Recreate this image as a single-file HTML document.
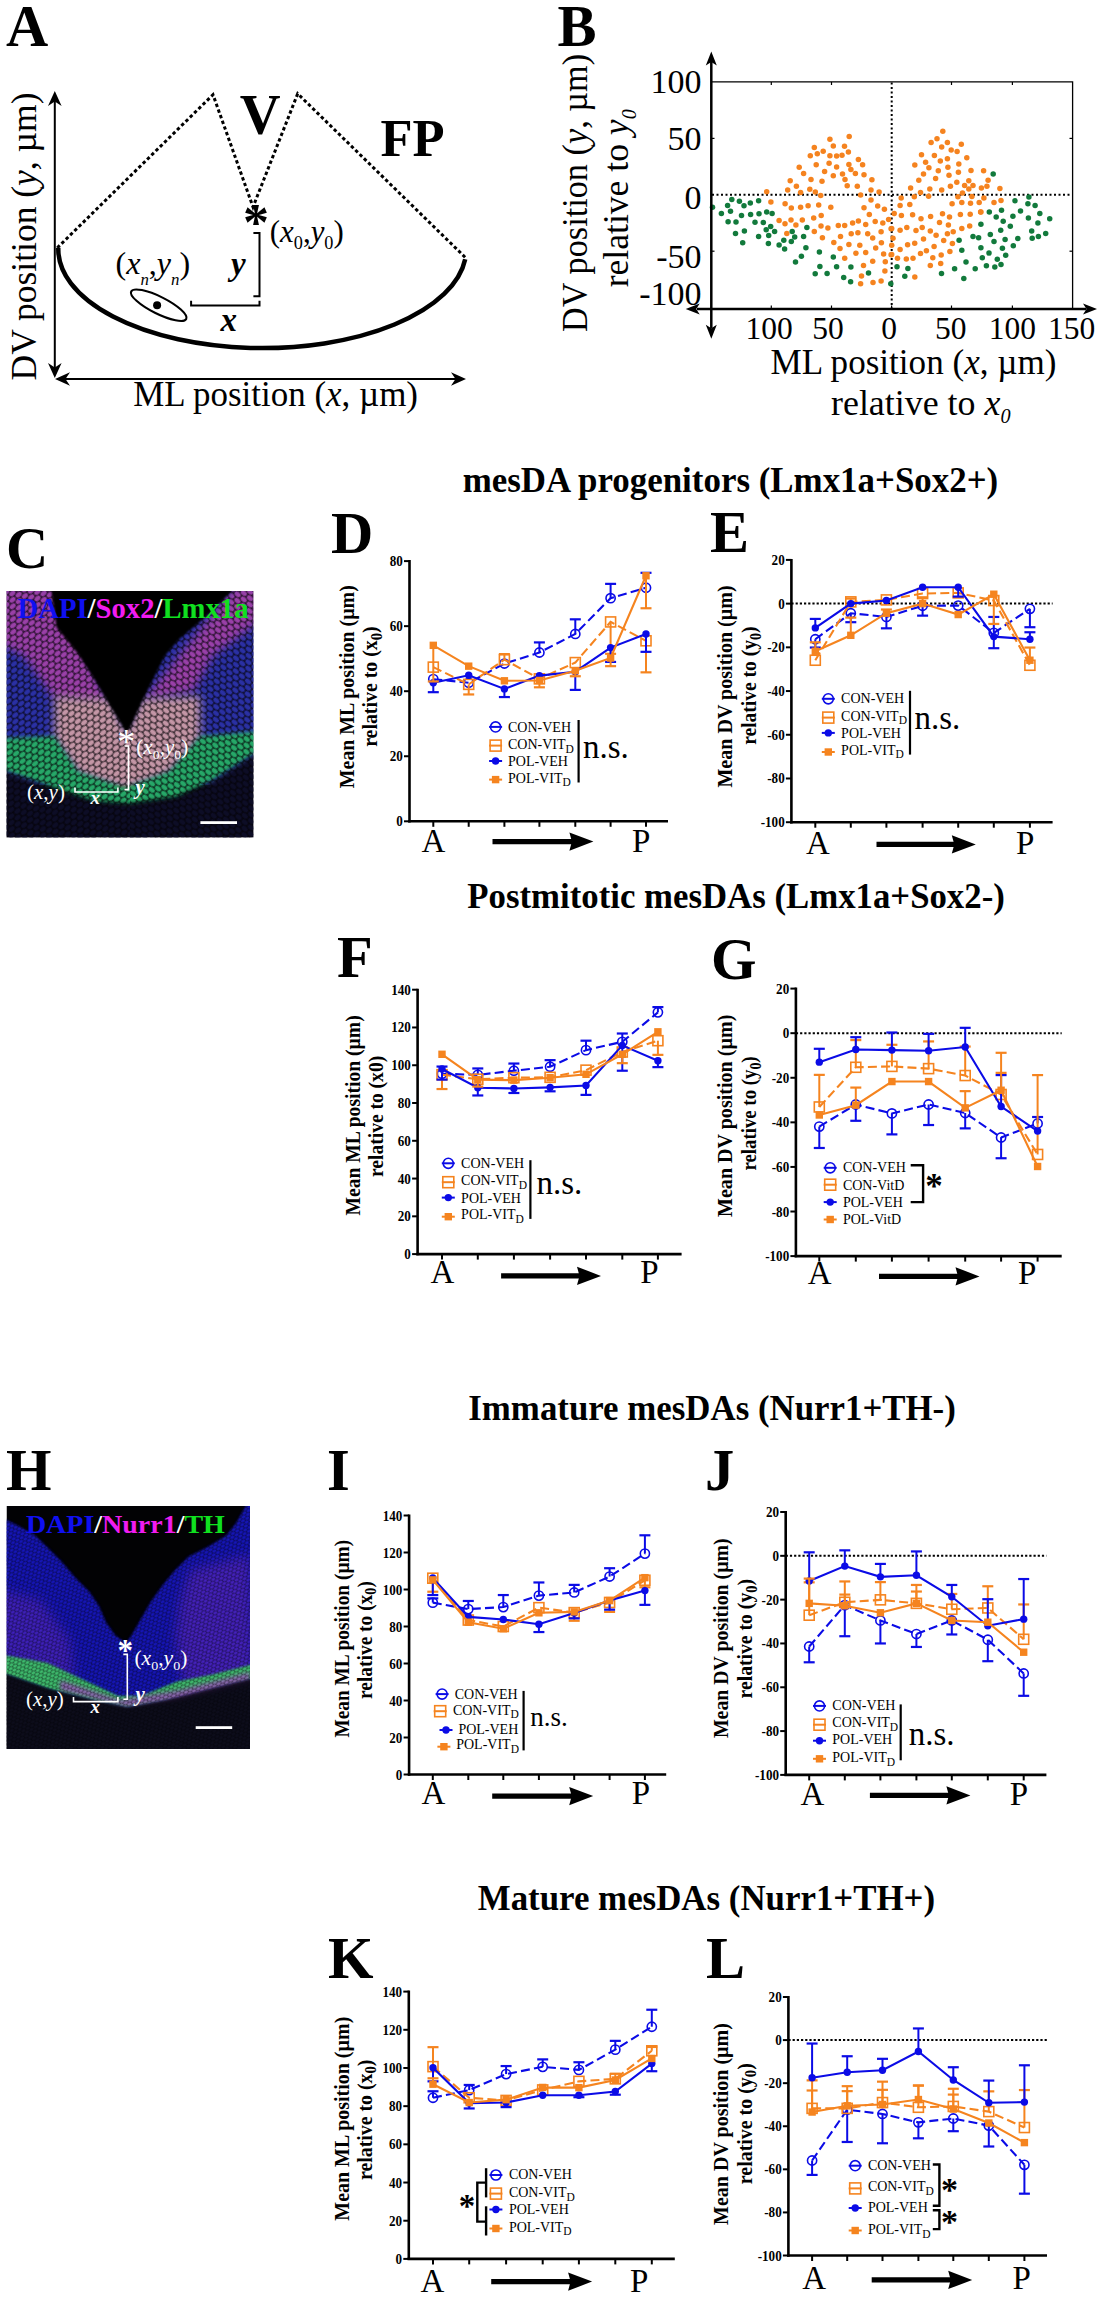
<!DOCTYPE html>
<html><head><meta charset="utf-8"><style>
html,body{margin:0;padding:0;background:#fff;}
svg{display:block;}
text{font-family:"Liberation Serif", serif;}
</style></head><body>
<svg width="1103" height="2300" viewBox="0 0 1103 2300">
<rect width="1103" height="2300" fill="#fff"/>
<text x="6.00" y="46.00" font-size="58.5" font-weight="bold" >A</text>
<text x="557.50" y="46.00" font-size="58.5" font-weight="bold" >B</text>
<text x="6.00" y="568.00" font-size="58.5" font-weight="bold" >C</text>
<text x="331.00" y="552.50" font-size="58.5" font-weight="bold" >D</text>
<text x="710.00" y="552.00" font-size="58.5" font-weight="bold" >E</text>
<text x="337.00" y="977.00" font-size="58.5" font-weight="bold" >F</text>
<text x="711.00" y="979.00" font-size="58.5" font-weight="bold" >G</text>
<text x="6.00" y="1490.00" font-size="58.5" font-weight="bold" >H</text>
<text x="327.00" y="1490.00" font-size="58.5" font-weight="bold" >I</text>
<text x="705.00" y="1490.00" font-size="58.5" font-weight="bold" >J</text>
<text x="328.00" y="1978.00" font-size="58.5" font-weight="bold" >K</text>
<text x="706.00" y="1978.00" font-size="58.5" font-weight="bold" >L</text>
<text x="462.70" y="492.00" font-size="35" font-weight="bold" textLength="535.5" lengthAdjust="spacingAndGlyphs" >mesDA progenitors (Lmx1a+Sox2+)</text>
<text x="467.30" y="907.80" font-size="35" font-weight="bold" textLength="537.5" lengthAdjust="spacingAndGlyphs" >Postmitotic mesDAs (Lmx1a+Sox2-)</text>
<text x="468.30" y="1420.30" font-size="35" font-weight="bold" textLength="487.5" lengthAdjust="spacingAndGlyphs" >Immature mesDAs (Nurr1+TH-)</text>
<text x="477.80" y="1910.30" font-size="35" font-weight="bold" textLength="457.2" lengthAdjust="spacingAndGlyphs" >Mature mesDAs (Nurr1+TH+)</text>
<defs><marker id="ah" viewBox="0 0 10 10" refX="9" refY="5" markerWidth="6" markerHeight="6" orient="auto-start-reverse"><path d="M0,0 L10,5 L0,10 L3,5 z" fill="#000"/></marker></defs>
<line x1="54.80" y1="95.50" x2="54.80" y2="373.50" stroke="#000" stroke-width="2" stroke-linecap="butt"/>
<path d="M54.8,378.0 L48.0,363.0 L54.8,367.5 L61.6,363.0 Z" fill="#000"/>
<path d="M54.8,91.0 L48.0,106.0 L54.8,101.5 L61.6,106.0 Z" fill="#000"/>
<line x1="59.50" y1="379.00" x2="461.50" y2="379.00" stroke="#000" stroke-width="2" stroke-linecap="butt"/>
<path d="M466.0,379.0 L451.0,385.8 L455.5,379.0 L451.0,372.2 Z" fill="#000"/>
<path d="M55.0,379.0 L70.0,385.8 L65.5,379.0 L70.0,372.2 Z" fill="#000"/>
<text x="35.50" y="380.50" font-size="35.5" transform="rotate(-90 35.50 380.50)" textLength="288" lengthAdjust="spacingAndGlyphs" >DV position (<tspan font-style="italic">y</tspan>, µm)</text>
<text x="133.20" y="406.40" font-size="35" textLength="284.8" lengthAdjust="spacingAndGlyphs" >ML position (<tspan font-style="italic">x</tspan>, µm)</text>
<polyline points="57.3,247.8 213,94.7 253,207 297.7,93.7 466.2,258.3" fill="none" stroke="#000" stroke-width="3" stroke-dasharray="3.4 2.6"/>
<path d="M58.3,247.8 A204,99 0 0 0 465.2,259.3" fill="none" stroke="#000" stroke-width="4.5"/>
<text x="239.80" y="134.30" font-size="56.5" font-weight="bold" >V</text>
<text x="380.50" y="155.80" font-size="52.5" font-weight="bold" >FP</text>
<text x="243.10" y="240.40" font-size="52" font-weight="bold" >*</text>
<text x="269.80" y="242.30" font-size="30.5" textLength="74" lengthAdjust="spacingAndGlyphs" >(<tspan font-style="italic">x</tspan><tspan font-size="18" dy="7">0</tspan><tspan dy="-7">,</tspan><tspan font-style="italic">y</tspan><tspan font-size="18" dy="7">0</tspan><tspan dy="-7">)</tspan></text>
<polyline points="253.4,233 259.5,233 259.5,296.2 253.4,296.2" fill="none" stroke="#000" stroke-width="2"/>
<polyline points="191.1,300.8 191.1,305.6 259.5,305.6 259.5,300.8" fill="none" stroke="#000" stroke-width="2"/>
<text x="231.00" y="274.50" font-size="33" font-weight="bold" font-style="italic" >y</text>
<text x="220.50" y="331.00" font-size="33" font-weight="bold" font-style="italic" >x</text>
<ellipse cx="158.7" cy="305.2" rx="30.8" ry="8.5" transform="rotate(26.6 158.7 305.2)" fill="none" stroke="#000" stroke-width="2.1"/>
<circle cx="157.1" cy="305.3" r="4" fill="#000"/>
<text x="115.50" y="273.50" font-size="30.5" textLength="74.7" lengthAdjust="spacingAndGlyphs" >(<tspan font-style="italic">x</tspan><tspan font-size="16" dy="11" font-style="italic">n</tspan><tspan dy="-11">,</tspan><tspan font-style="italic">y</tspan><tspan font-size="16" dy="11" font-style="italic">n</tspan><tspan dy="-11">)</tspan></text>
<line x1="409.50" y1="560.10" x2="409.50" y2="822.50" stroke="#000" stroke-width="2.6" stroke-linecap="butt"/>
<line x1="408.20" y1="821.30" x2="668.00" y2="821.30" stroke="#000" stroke-width="2.6" stroke-linecap="butt"/>
<line x1="404.00" y1="821.30" x2="409.50" y2="821.30" stroke="#000" stroke-width="2" stroke-linecap="butt"/>
<text x="402.80" y="826.30" font-size="14.8" font-weight="bold" text-anchor="end" textLength="6.55" lengthAdjust="spacingAndGlyphs" >0</text>
<line x1="404.00" y1="756.25" x2="409.50" y2="756.25" stroke="#000" stroke-width="2" stroke-linecap="butt"/>
<text x="402.80" y="761.25" font-size="14.8" font-weight="bold" text-anchor="end" textLength="13.1" lengthAdjust="spacingAndGlyphs" >20</text>
<line x1="404.00" y1="691.20" x2="409.50" y2="691.20" stroke="#000" stroke-width="2" stroke-linecap="butt"/>
<text x="402.80" y="696.20" font-size="14.8" font-weight="bold" text-anchor="end" textLength="13.1" lengthAdjust="spacingAndGlyphs" >40</text>
<line x1="404.00" y1="626.15" x2="409.50" y2="626.15" stroke="#000" stroke-width="2" stroke-linecap="butt"/>
<text x="402.80" y="631.15" font-size="14.8" font-weight="bold" text-anchor="end" textLength="13.1" lengthAdjust="spacingAndGlyphs" >60</text>
<line x1="404.00" y1="561.10" x2="409.50" y2="561.10" stroke="#000" stroke-width="2" stroke-linecap="butt"/>
<text x="402.80" y="566.10" font-size="14.8" font-weight="bold" text-anchor="end" textLength="13.1" lengthAdjust="spacingAndGlyphs" >80</text>
<line x1="433.30" y1="821.30" x2="433.30" y2="826.80" stroke="#000" stroke-width="2" stroke-linecap="butt"/>
<line x1="468.70" y1="821.30" x2="468.70" y2="826.80" stroke="#000" stroke-width="2" stroke-linecap="butt"/>
<line x1="504.40" y1="821.30" x2="504.40" y2="826.80" stroke="#000" stroke-width="2" stroke-linecap="butt"/>
<line x1="539.40" y1="821.30" x2="539.40" y2="826.80" stroke="#000" stroke-width="2" stroke-linecap="butt"/>
<line x1="575.30" y1="821.30" x2="575.30" y2="826.80" stroke="#000" stroke-width="2" stroke-linecap="butt"/>
<line x1="610.60" y1="821.30" x2="610.60" y2="826.80" stroke="#000" stroke-width="2" stroke-linecap="butt"/>
<line x1="646.00" y1="821.30" x2="646.00" y2="826.80" stroke="#000" stroke-width="2" stroke-linecap="butt"/>
<text x="421.50" y="851.50" font-size="33" >A</text>
<text x="632.00" y="851.50" font-size="33" >P</text>
<line x1="492.50" y1="841.60" x2="575.40" y2="841.60" stroke="#000" stroke-width="5.4" stroke-linecap="butt"/>
<path d="M593.4,841.6 L569.4,832.4 L571.9,841.6 L569.4,850.8 Z" fill="#000"/>
<text x="354.20" y="686.70" font-size="21.8" font-weight="bold" text-anchor="middle" transform="rotate(-90 354.20 686.70)" textLength="202.9" lengthAdjust="spacingAndGlyphs" >Mean ML position (µm)</text>
<text x="377.50" y="686.60" font-size="21.8" font-weight="bold" text-anchor="middle" transform="rotate(-90 377.50 686.60)" textLength="120.5" lengthAdjust="spacingAndGlyphs" >relative to (x<tspan font-size="16" dy="4.5">0</tspan><tspan dy="-4.5">)</tspan></text>
<polyline points="433.30,679.17 468.70,682.74 504.40,663.55 539.40,652.50 575.30,633.96 610.60,598.18 646.00,587.77" fill="none" stroke="#0b0be6" stroke-width="2.1" stroke-dasharray="9 4.2"/>
<circle cx="433.30" cy="679.17" r="4.60" fill="none" stroke="#0b0be6" stroke-width="1.6"/>
<circle cx="468.70" cy="682.74" r="4.60" fill="none" stroke="#0b0be6" stroke-width="1.6"/>
<circle cx="504.40" cy="663.55" r="4.60" fill="none" stroke="#0b0be6" stroke-width="1.6"/>
<line x1="539.40" y1="642.41" x2="539.40" y2="652.50" stroke="#0b0be6" stroke-width="2" stroke-linecap="butt"/>
<line x1="533.90" y1="642.41" x2="544.90" y2="642.41" stroke="#0b0be6" stroke-width="2.2" stroke-linecap="butt"/>
<circle cx="539.40" cy="652.50" r="4.60" fill="none" stroke="#0b0be6" stroke-width="1.6"/>
<line x1="575.30" y1="619.32" x2="575.30" y2="633.96" stroke="#0b0be6" stroke-width="2" stroke-linecap="butt"/>
<line x1="569.80" y1="619.32" x2="580.80" y2="619.32" stroke="#0b0be6" stroke-width="2.2" stroke-linecap="butt"/>
<circle cx="575.30" cy="633.96" r="4.60" fill="none" stroke="#0b0be6" stroke-width="1.6"/>
<line x1="610.60" y1="583.87" x2="610.60" y2="598.18" stroke="#0b0be6" stroke-width="2" stroke-linecap="butt"/>
<line x1="605.10" y1="583.87" x2="616.10" y2="583.87" stroke="#0b0be6" stroke-width="2.2" stroke-linecap="butt"/>
<circle cx="610.60" cy="598.18" r="4.60" fill="none" stroke="#0b0be6" stroke-width="1.6"/>
<line x1="646.00" y1="572.81" x2="646.00" y2="587.77" stroke="#0b0be6" stroke-width="2" stroke-linecap="butt"/>
<line x1="640.50" y1="572.81" x2="651.50" y2="572.81" stroke="#0b0be6" stroke-width="2.2" stroke-linecap="butt"/>
<circle cx="646.00" cy="587.77" r="4.60" fill="none" stroke="#0b0be6" stroke-width="1.6"/>
<polyline points="433.30,667.13 468.70,684.37 504.40,659.65 539.40,678.84 575.30,662.58 610.60,621.92 646.00,640.79" fill="none" stroke="#f5841f" stroke-width="2.1" stroke-dasharray="9 4.2"/>
<rect x="428.30" y="662.13" width="10.00" height="10.00" fill="none" stroke="#f5841f" stroke-width="1.6"/>
<line x1="468.70" y1="684.37" x2="468.70" y2="694.45" stroke="#f5841f" stroke-width="2" stroke-linecap="butt"/>
<line x1="463.20" y1="694.45" x2="474.20" y2="694.45" stroke="#f5841f" stroke-width="2.2" stroke-linecap="butt"/>
<rect x="463.70" y="679.37" width="10.00" height="10.00" fill="none" stroke="#f5841f" stroke-width="1.6"/>
<line x1="504.40" y1="654.12" x2="504.40" y2="659.65" stroke="#f5841f" stroke-width="2" stroke-linecap="butt"/>
<line x1="498.90" y1="654.12" x2="509.90" y2="654.12" stroke="#f5841f" stroke-width="2.2" stroke-linecap="butt"/>
<rect x="499.40" y="654.65" width="10.00" height="10.00" fill="none" stroke="#f5841f" stroke-width="1.6"/>
<rect x="534.40" y="673.84" width="10.00" height="10.00" fill="none" stroke="#f5841f" stroke-width="1.6"/>
<rect x="570.30" y="657.58" width="10.00" height="10.00" fill="none" stroke="#f5841f" stroke-width="1.6"/>
<line x1="610.60" y1="621.92" x2="610.60" y2="653.80" stroke="#f5841f" stroke-width="2" stroke-linecap="butt"/>
<line x1="605.10" y1="653.80" x2="616.10" y2="653.80" stroke="#f5841f" stroke-width="2.2" stroke-linecap="butt"/>
<rect x="605.60" y="616.92" width="10.00" height="10.00" fill="none" stroke="#f5841f" stroke-width="1.6"/>
<line x1="646.00" y1="640.79" x2="646.00" y2="672.34" stroke="#f5841f" stroke-width="2" stroke-linecap="butt"/>
<line x1="640.50" y1="672.34" x2="651.50" y2="672.34" stroke="#f5841f" stroke-width="2.2" stroke-linecap="butt"/>
<rect x="641.00" y="635.79" width="10.00" height="10.00" fill="none" stroke="#f5841f" stroke-width="1.6"/>
<polyline points="433.30,682.74 468.70,675.26 504.40,688.92 539.40,675.59 575.30,671.68 610.60,647.62 646.00,633.96" fill="none" stroke="#0b0be6" stroke-width="2.1"/>
<line x1="433.30" y1="682.74" x2="433.30" y2="692.18" stroke="#0b0be6" stroke-width="2" stroke-linecap="butt"/>
<line x1="427.80" y1="692.18" x2="438.80" y2="692.18" stroke="#0b0be6" stroke-width="2.2" stroke-linecap="butt"/>
<circle cx="433.30" cy="682.74" r="3.70" fill="#0b0be6"/>
<circle cx="468.70" cy="675.26" r="3.70" fill="#0b0be6"/>
<line x1="504.40" y1="688.92" x2="504.40" y2="697.05" stroke="#0b0be6" stroke-width="2" stroke-linecap="butt"/>
<line x1="498.90" y1="697.05" x2="509.90" y2="697.05" stroke="#0b0be6" stroke-width="2.2" stroke-linecap="butt"/>
<circle cx="504.40" cy="688.92" r="3.70" fill="#0b0be6"/>
<circle cx="539.40" cy="675.59" r="3.70" fill="#0b0be6"/>
<line x1="575.30" y1="671.68" x2="575.30" y2="689.90" stroke="#0b0be6" stroke-width="2" stroke-linecap="butt"/>
<line x1="569.80" y1="689.90" x2="580.80" y2="689.90" stroke="#0b0be6" stroke-width="2.2" stroke-linecap="butt"/>
<circle cx="575.30" cy="671.68" r="3.70" fill="#0b0be6"/>
<line x1="610.60" y1="647.62" x2="610.60" y2="661.93" stroke="#0b0be6" stroke-width="2" stroke-linecap="butt"/>
<line x1="605.10" y1="661.93" x2="616.10" y2="661.93" stroke="#0b0be6" stroke-width="2.2" stroke-linecap="butt"/>
<circle cx="610.60" cy="647.62" r="3.70" fill="#0b0be6"/>
<line x1="646.00" y1="633.96" x2="646.00" y2="651.84" stroke="#0b0be6" stroke-width="2" stroke-linecap="butt"/>
<line x1="640.50" y1="651.84" x2="651.50" y2="651.84" stroke="#0b0be6" stroke-width="2.2" stroke-linecap="butt"/>
<circle cx="646.00" cy="633.96" r="3.70" fill="#0b0be6"/>
<polyline points="433.30,645.34 468.70,666.16 504.40,680.79 539.40,680.47 575.30,670.71 610.60,658.02 646.00,575.74" fill="none" stroke="#f5841f" stroke-width="2.1"/>
<line x1="433.30" y1="645.34" x2="433.30" y2="681.44" stroke="#f5841f" stroke-width="2" stroke-linecap="butt"/>
<line x1="427.80" y1="681.44" x2="438.80" y2="681.44" stroke="#f5841f" stroke-width="2.2" stroke-linecap="butt"/>
<rect x="429.60" y="641.64" width="7.40" height="7.40" fill="#f5841f"/>
<rect x="465.00" y="662.46" width="7.40" height="7.40" fill="#f5841f"/>
<rect x="500.70" y="677.09" width="7.40" height="7.40" fill="#f5841f"/>
<line x1="539.40" y1="680.47" x2="539.40" y2="687.30" stroke="#f5841f" stroke-width="2" stroke-linecap="butt"/>
<line x1="533.90" y1="687.30" x2="544.90" y2="687.30" stroke="#f5841f" stroke-width="2.2" stroke-linecap="butt"/>
<rect x="535.70" y="676.77" width="7.40" height="7.40" fill="#f5841f"/>
<line x1="575.30" y1="670.71" x2="575.30" y2="676.24" stroke="#f5841f" stroke-width="2" stroke-linecap="butt"/>
<line x1="569.80" y1="676.24" x2="580.80" y2="676.24" stroke="#f5841f" stroke-width="2.2" stroke-linecap="butt"/>
<rect x="571.60" y="667.01" width="7.40" height="7.40" fill="#f5841f"/>
<line x1="610.60" y1="658.02" x2="610.60" y2="666.16" stroke="#f5841f" stroke-width="2" stroke-linecap="butt"/>
<line x1="605.10" y1="666.16" x2="616.10" y2="666.16" stroke="#f5841f" stroke-width="2.2" stroke-linecap="butt"/>
<rect x="606.90" y="654.32" width="7.40" height="7.40" fill="#f5841f"/>
<line x1="646.00" y1="575.74" x2="646.00" y2="608.26" stroke="#f5841f" stroke-width="2" stroke-linecap="butt"/>
<line x1="640.50" y1="608.26" x2="651.50" y2="608.26" stroke="#f5841f" stroke-width="2.2" stroke-linecap="butt"/>
<rect x="642.30" y="572.04" width="7.40" height="7.40" fill="#f5841f"/>
<line x1="489.10" y1="726.90" x2="502.10" y2="726.90" stroke="#0b0be6" stroke-width="2" stroke-linecap="butt"/>
<circle cx="495.60" cy="726.90" r="5.06" fill="none" stroke="#0b0be6" stroke-width="1.6"/>
<line x1="489.10" y1="745.60" x2="502.10" y2="745.60" stroke="#f5841f" stroke-width="2" stroke-linecap="butt"/>
<rect x="490.10" y="740.10" width="11.00" height="11.00" fill="none" stroke="#f5841f" stroke-width="1.6"/>
<line x1="489.10" y1="761.00" x2="502.10" y2="761.00" stroke="#0b0be6" stroke-width="2" stroke-linecap="butt"/>
<circle cx="495.60" cy="761.00" r="3.70" fill="#0b0be6"/>
<line x1="489.10" y1="779.60" x2="502.10" y2="779.60" stroke="#f5841f" stroke-width="2" stroke-linecap="butt"/>
<rect x="491.90" y="775.90" width="7.40" height="7.40" fill="#f5841f"/>
<text x="508.00" y="731.70" font-size="14" >CON-VEH</text>
<text x="508.00" y="749.10" font-size="14" >CON-VIT<tspan font-size="11.5" dy="3.5">D</tspan></text>
<text x="508.00" y="765.80" font-size="14" >POL-VEH</text>
<text x="508.00" y="782.90" font-size="14" >POL-VIT<tspan font-size="11.5" dy="3.5">D</tspan></text>
<line x1="578.60" y1="720.00" x2="578.60" y2="782.50" stroke="#000" stroke-width="2.2" stroke-linecap="butt"/>
<text x="583.00" y="757.80" font-size="33" >n.s.</text>
<line x1="791.40" y1="558.90" x2="791.40" y2="823.40" stroke="#000" stroke-width="2.6" stroke-linecap="butt"/>
<line x1="790.10" y1="822.20" x2="1052.60" y2="822.20" stroke="#000" stroke-width="2.6" stroke-linecap="butt"/>
<line x1="785.90" y1="559.90" x2="791.40" y2="559.90" stroke="#000" stroke-width="2" stroke-linecap="butt"/>
<text x="784.70" y="564.90" font-size="14.8" font-weight="bold" text-anchor="end" textLength="13.1" lengthAdjust="spacingAndGlyphs" >20</text>
<line x1="785.90" y1="603.62" x2="791.40" y2="603.62" stroke="#000" stroke-width="2" stroke-linecap="butt"/>
<text x="784.70" y="608.62" font-size="14.8" font-weight="bold" text-anchor="end" textLength="6.55" lengthAdjust="spacingAndGlyphs" >0</text>
<line x1="785.90" y1="647.33" x2="791.40" y2="647.33" stroke="#000" stroke-width="2" stroke-linecap="butt"/>
<text x="784.70" y="652.33" font-size="14.8" font-weight="bold" text-anchor="end" textLength="17.46" lengthAdjust="spacingAndGlyphs" >-20</text>
<line x1="785.90" y1="691.05" x2="791.40" y2="691.05" stroke="#000" stroke-width="2" stroke-linecap="butt"/>
<text x="784.70" y="696.05" font-size="14.8" font-weight="bold" text-anchor="end" textLength="17.46" lengthAdjust="spacingAndGlyphs" >-40</text>
<line x1="785.90" y1="734.77" x2="791.40" y2="734.77" stroke="#000" stroke-width="2" stroke-linecap="butt"/>
<text x="784.70" y="739.77" font-size="14.8" font-weight="bold" text-anchor="end" textLength="17.46" lengthAdjust="spacingAndGlyphs" >-60</text>
<line x1="785.90" y1="778.48" x2="791.40" y2="778.48" stroke="#000" stroke-width="2" stroke-linecap="butt"/>
<text x="784.70" y="783.48" font-size="14.8" font-weight="bold" text-anchor="end" textLength="17.46" lengthAdjust="spacingAndGlyphs" >-80</text>
<line x1="785.90" y1="822.20" x2="791.40" y2="822.20" stroke="#000" stroke-width="2" stroke-linecap="butt"/>
<text x="784.70" y="827.20" font-size="14.8" font-weight="bold" text-anchor="end" textLength="24.01" lengthAdjust="spacingAndGlyphs" >-100</text>
<line x1="815.30" y1="822.20" x2="815.30" y2="827.70" stroke="#000" stroke-width="2" stroke-linecap="butt"/>
<line x1="850.80" y1="822.20" x2="850.80" y2="827.70" stroke="#000" stroke-width="2" stroke-linecap="butt"/>
<line x1="886.40" y1="822.20" x2="886.40" y2="827.70" stroke="#000" stroke-width="2" stroke-linecap="butt"/>
<line x1="922.60" y1="822.20" x2="922.60" y2="827.70" stroke="#000" stroke-width="2" stroke-linecap="butt"/>
<line x1="958.20" y1="822.20" x2="958.20" y2="827.70" stroke="#000" stroke-width="2" stroke-linecap="butt"/>
<line x1="993.80" y1="822.20" x2="993.80" y2="827.70" stroke="#000" stroke-width="2" stroke-linecap="butt"/>
<line x1="1029.90" y1="822.20" x2="1029.90" y2="827.70" stroke="#000" stroke-width="2" stroke-linecap="butt"/>
<line x1="791.40" y1="603.62" x2="1052.60" y2="603.62" stroke="#000" stroke-width="2" stroke-dasharray="2.2 2"/>
<text x="806.00" y="854.30" font-size="33" >A</text>
<text x="1016.00" y="854.30" font-size="33" >P</text>
<line x1="876.50" y1="844.40" x2="957.80" y2="844.40" stroke="#000" stroke-width="5.4" stroke-linecap="butt"/>
<path d="M975.8,844.4 L951.8,835.2 L954.3,844.4 L951.8,853.6 Z" fill="#000"/>
<text x="732.30" y="686.40" font-size="21.8" font-weight="bold" text-anchor="middle" transform="rotate(-90 732.30 686.40)" textLength="202.3" lengthAdjust="spacingAndGlyphs" >Mean DV position (µm)</text>
<text x="756.10" y="685.60" font-size="21.8" font-weight="bold" text-anchor="middle" transform="rotate(-90 756.10 685.60)" textLength="118.4" lengthAdjust="spacingAndGlyphs" >relative to (y<tspan font-size="16" dy="4.5">0</tspan><tspan dy="-4.5">)</tspan></text>
<polyline points="815.30,639.25 850.80,613.23 886.40,616.95 922.60,605.80 958.20,605.58 993.80,632.91 1029.90,608.86" fill="none" stroke="#0b0be6" stroke-width="2.1" stroke-dasharray="9 4.2"/>
<line x1="815.30" y1="639.25" x2="815.30" y2="647.55" stroke="#0b0be6" stroke-width="2" stroke-linecap="butt"/>
<line x1="809.80" y1="647.55" x2="820.80" y2="647.55" stroke="#0b0be6" stroke-width="2.2" stroke-linecap="butt"/>
<circle cx="815.30" cy="639.25" r="4.60" fill="none" stroke="#0b0be6" stroke-width="1.6"/>
<line x1="850.80" y1="613.23" x2="850.80" y2="622.20" stroke="#0b0be6" stroke-width="2" stroke-linecap="butt"/>
<line x1="845.30" y1="622.20" x2="856.30" y2="622.20" stroke="#0b0be6" stroke-width="2.2" stroke-linecap="butt"/>
<circle cx="850.80" cy="613.23" r="4.60" fill="none" stroke="#0b0be6" stroke-width="1.6"/>
<line x1="886.40" y1="616.95" x2="886.40" y2="628.32" stroke="#0b0be6" stroke-width="2" stroke-linecap="butt"/>
<line x1="880.90" y1="628.32" x2="891.90" y2="628.32" stroke="#0b0be6" stroke-width="2.2" stroke-linecap="butt"/>
<circle cx="886.40" cy="616.95" r="4.60" fill="none" stroke="#0b0be6" stroke-width="1.6"/>
<line x1="922.60" y1="605.80" x2="922.60" y2="615.64" stroke="#0b0be6" stroke-width="2" stroke-linecap="butt"/>
<line x1="917.10" y1="615.64" x2="928.10" y2="615.64" stroke="#0b0be6" stroke-width="2.2" stroke-linecap="butt"/>
<circle cx="922.60" cy="605.80" r="4.60" fill="none" stroke="#0b0be6" stroke-width="1.6"/>
<circle cx="958.20" cy="605.58" r="4.60" fill="none" stroke="#0b0be6" stroke-width="1.6"/>
<line x1="993.80" y1="616.95" x2="993.80" y2="632.91" stroke="#0b0be6" stroke-width="2" stroke-linecap="butt"/>
<line x1="988.30" y1="616.95" x2="999.30" y2="616.95" stroke="#0b0be6" stroke-width="2.2" stroke-linecap="butt"/>
<circle cx="993.80" cy="632.91" r="4.60" fill="none" stroke="#0b0be6" stroke-width="1.6"/>
<line x1="1029.90" y1="608.86" x2="1029.90" y2="627.22" stroke="#0b0be6" stroke-width="2" stroke-linecap="butt"/>
<line x1="1024.40" y1="627.22" x2="1035.40" y2="627.22" stroke="#0b0be6" stroke-width="2.2" stroke-linecap="butt"/>
<circle cx="1029.90" cy="608.86" r="4.60" fill="none" stroke="#0b0be6" stroke-width="1.6"/>
<polyline points="815.30,660.23 850.80,601.87 886.40,599.90 922.60,593.56 958.20,592.91 993.80,600.56 1029.90,665.26" fill="none" stroke="#f5841f" stroke-width="2.1" stroke-dasharray="9 4.2"/>
<rect x="810.30" y="655.23" width="10.00" height="10.00" fill="none" stroke="#f5841f" stroke-width="1.6"/>
<line x1="850.80" y1="598.59" x2="850.80" y2="601.87" stroke="#f5841f" stroke-width="2" stroke-linecap="butt"/>
<line x1="845.30" y1="598.59" x2="856.30" y2="598.59" stroke="#f5841f" stroke-width="2.2" stroke-linecap="butt"/>
<rect x="845.80" y="596.87" width="10.00" height="10.00" fill="none" stroke="#f5841f" stroke-width="1.6"/>
<rect x="881.40" y="594.90" width="10.00" height="10.00" fill="none" stroke="#f5841f" stroke-width="1.6"/>
<rect x="917.60" y="588.56" width="10.00" height="10.00" fill="none" stroke="#f5841f" stroke-width="1.6"/>
<rect x="953.20" y="587.91" width="10.00" height="10.00" fill="none" stroke="#f5841f" stroke-width="1.6"/>
<rect x="988.80" y="595.56" width="10.00" height="10.00" fill="none" stroke="#f5841f" stroke-width="1.6"/>
<rect x="1024.90" y="660.26" width="10.00" height="10.00" fill="none" stroke="#f5841f" stroke-width="1.6"/>
<polyline points="815.30,627.88 850.80,603.62 886.40,600.56 922.60,587.22 958.20,587.22 993.80,636.62 1029.90,639.25" fill="none" stroke="#0b0be6" stroke-width="2.1"/>
<line x1="815.30" y1="618.92" x2="815.30" y2="627.88" stroke="#0b0be6" stroke-width="2" stroke-linecap="butt"/>
<line x1="809.80" y1="618.92" x2="820.80" y2="618.92" stroke="#0b0be6" stroke-width="2.2" stroke-linecap="butt"/>
<circle cx="815.30" cy="627.88" r="3.70" fill="#0b0be6"/>
<circle cx="850.80" cy="603.62" r="3.70" fill="#0b0be6"/>
<circle cx="886.40" cy="600.56" r="3.70" fill="#0b0be6"/>
<circle cx="922.60" cy="587.22" r="3.70" fill="#0b0be6"/>
<line x1="958.20" y1="587.22" x2="958.20" y2="596.62" stroke="#0b0be6" stroke-width="2" stroke-linecap="butt"/>
<line x1="952.70" y1="596.62" x2="963.70" y2="596.62" stroke="#0b0be6" stroke-width="2.2" stroke-linecap="butt"/>
<circle cx="958.20" cy="587.22" r="3.70" fill="#0b0be6"/>
<line x1="993.80" y1="636.62" x2="993.80" y2="648.21" stroke="#0b0be6" stroke-width="2" stroke-linecap="butt"/>
<line x1="988.30" y1="648.21" x2="999.30" y2="648.21" stroke="#0b0be6" stroke-width="2.2" stroke-linecap="butt"/>
<circle cx="993.80" cy="636.62" r="3.70" fill="#0b0be6"/>
<line x1="1029.90" y1="632.25" x2="1029.90" y2="639.25" stroke="#0b0be6" stroke-width="2" stroke-linecap="butt"/>
<line x1="1024.40" y1="632.25" x2="1035.40" y2="632.25" stroke="#0b0be6" stroke-width="2.2" stroke-linecap="butt"/>
<circle cx="1029.90" cy="639.25" r="3.70" fill="#0b0be6"/>
<polyline points="815.30,651.27 850.80,635.31 886.40,613.23 922.60,603.62 958.20,614.55 993.80,594.22 1029.90,660.23" fill="none" stroke="#f5841f" stroke-width="2.1"/>
<line x1="815.30" y1="642.31" x2="815.30" y2="651.27" stroke="#f5841f" stroke-width="2" stroke-linecap="butt"/>
<line x1="809.80" y1="642.31" x2="820.80" y2="642.31" stroke="#f5841f" stroke-width="2.2" stroke-linecap="butt"/>
<rect x="811.60" y="647.57" width="7.40" height="7.40" fill="#f5841f"/>
<line x1="850.80" y1="617.61" x2="850.80" y2="635.31" stroke="#f5841f" stroke-width="2" stroke-linecap="butt"/>
<line x1="845.30" y1="617.61" x2="856.30" y2="617.61" stroke="#f5841f" stroke-width="2.2" stroke-linecap="butt"/>
<rect x="847.10" y="631.61" width="7.40" height="7.40" fill="#f5841f"/>
<line x1="886.40" y1="609.52" x2="886.40" y2="613.23" stroke="#f5841f" stroke-width="2" stroke-linecap="butt"/>
<line x1="880.90" y1="609.52" x2="891.90" y2="609.52" stroke="#f5841f" stroke-width="2.2" stroke-linecap="butt"/>
<rect x="882.70" y="609.53" width="7.40" height="7.40" fill="#f5841f"/>
<line x1="922.60" y1="597.28" x2="922.60" y2="603.62" stroke="#f5841f" stroke-width="2" stroke-linecap="butt"/>
<line x1="917.10" y1="597.28" x2="928.10" y2="597.28" stroke="#f5841f" stroke-width="2.2" stroke-linecap="butt"/>
<rect x="918.90" y="599.92" width="7.40" height="7.40" fill="#f5841f"/>
<rect x="954.50" y="610.85" width="7.40" height="7.40" fill="#f5841f"/>
<line x1="993.80" y1="594.22" x2="993.80" y2="623.94" stroke="#f5841f" stroke-width="2" stroke-linecap="butt"/>
<line x1="988.30" y1="623.94" x2="999.30" y2="623.94" stroke="#f5841f" stroke-width="2.2" stroke-linecap="butt"/>
<rect x="990.10" y="590.52" width="7.40" height="7.40" fill="#f5841f"/>
<line x1="1029.90" y1="647.55" x2="1029.90" y2="660.23" stroke="#f5841f" stroke-width="2" stroke-linecap="butt"/>
<line x1="1024.40" y1="647.55" x2="1035.40" y2="647.55" stroke="#f5841f" stroke-width="2.2" stroke-linecap="butt"/>
<rect x="1026.20" y="656.53" width="7.40" height="7.40" fill="#f5841f"/>
<line x1="821.80" y1="698.80" x2="834.80" y2="698.80" stroke="#0b0be6" stroke-width="2" stroke-linecap="butt"/>
<circle cx="828.30" cy="698.80" r="5.06" fill="none" stroke="#0b0be6" stroke-width="1.6"/>
<line x1="821.80" y1="717.60" x2="834.80" y2="717.60" stroke="#f5841f" stroke-width="2" stroke-linecap="butt"/>
<rect x="822.80" y="712.10" width="11.00" height="11.00" fill="none" stroke="#f5841f" stroke-width="1.6"/>
<line x1="821.80" y1="732.90" x2="834.80" y2="732.90" stroke="#0b0be6" stroke-width="2" stroke-linecap="butt"/>
<circle cx="828.30" cy="732.90" r="3.70" fill="#0b0be6"/>
<line x1="821.80" y1="752.00" x2="834.80" y2="752.00" stroke="#f5841f" stroke-width="2" stroke-linecap="butt"/>
<rect x="824.60" y="748.30" width="7.40" height="7.40" fill="#f5841f"/>
<text x="841.10" y="703.10" font-size="14" >CON-VEH</text>
<text x="841.10" y="720.50" font-size="14" >CON-VIT<tspan font-size="11.5" dy="3.5">D</tspan></text>
<text x="841.10" y="738.00" font-size="14" >POL-VEH</text>
<text x="841.10" y="754.60" font-size="14" >POL-VIT<tspan font-size="11.5" dy="3.5">D</tspan></text>
<line x1="910.00" y1="690.80" x2="910.00" y2="754.60" stroke="#000" stroke-width="2.2" stroke-linecap="butt"/>
<text x="914.40" y="729.20" font-size="33" >n.s.</text>
<line x1="417.60" y1="988.70" x2="417.60" y2="1255.30" stroke="#000" stroke-width="2.6" stroke-linecap="butt"/>
<line x1="416.30" y1="1254.10" x2="681.60" y2="1254.10" stroke="#000" stroke-width="2.6" stroke-linecap="butt"/>
<line x1="412.10" y1="1254.10" x2="417.60" y2="1254.10" stroke="#000" stroke-width="2" stroke-linecap="butt"/>
<text x="410.90" y="1259.10" font-size="14.8" font-weight="bold" text-anchor="end" textLength="6.55" lengthAdjust="spacingAndGlyphs" >0</text>
<line x1="412.10" y1="1216.33" x2="417.60" y2="1216.33" stroke="#000" stroke-width="2" stroke-linecap="butt"/>
<text x="410.90" y="1221.33" font-size="14.8" font-weight="bold" text-anchor="end" textLength="13.1" lengthAdjust="spacingAndGlyphs" >20</text>
<line x1="412.10" y1="1178.56" x2="417.60" y2="1178.56" stroke="#000" stroke-width="2" stroke-linecap="butt"/>
<text x="410.90" y="1183.56" font-size="14.8" font-weight="bold" text-anchor="end" textLength="13.1" lengthAdjust="spacingAndGlyphs" >40</text>
<line x1="412.10" y1="1140.79" x2="417.60" y2="1140.79" stroke="#000" stroke-width="2" stroke-linecap="butt"/>
<text x="410.90" y="1145.79" font-size="14.8" font-weight="bold" text-anchor="end" textLength="13.1" lengthAdjust="spacingAndGlyphs" >60</text>
<line x1="412.10" y1="1103.01" x2="417.60" y2="1103.01" stroke="#000" stroke-width="2" stroke-linecap="butt"/>
<text x="410.90" y="1108.01" font-size="14.8" font-weight="bold" text-anchor="end" textLength="13.1" lengthAdjust="spacingAndGlyphs" >80</text>
<line x1="412.10" y1="1065.24" x2="417.60" y2="1065.24" stroke="#000" stroke-width="2" stroke-linecap="butt"/>
<text x="410.90" y="1070.24" font-size="14.8" font-weight="bold" text-anchor="end" textLength="19.65" lengthAdjust="spacingAndGlyphs" >100</text>
<line x1="412.10" y1="1027.47" x2="417.60" y2="1027.47" stroke="#000" stroke-width="2" stroke-linecap="butt"/>
<text x="410.90" y="1032.47" font-size="14.8" font-weight="bold" text-anchor="end" textLength="19.65" lengthAdjust="spacingAndGlyphs" >120</text>
<line x1="412.10" y1="989.70" x2="417.60" y2="989.70" stroke="#000" stroke-width="2" stroke-linecap="butt"/>
<text x="410.90" y="994.70" font-size="14.8" font-weight="bold" text-anchor="end" textLength="19.65" lengthAdjust="spacingAndGlyphs" >140</text>
<line x1="442.00" y1="1254.10" x2="442.00" y2="1259.60" stroke="#000" stroke-width="2" stroke-linecap="butt"/>
<line x1="477.80" y1="1254.10" x2="477.80" y2="1259.60" stroke="#000" stroke-width="2" stroke-linecap="butt"/>
<line x1="513.90" y1="1254.10" x2="513.90" y2="1259.60" stroke="#000" stroke-width="2" stroke-linecap="butt"/>
<line x1="550.10" y1="1254.10" x2="550.10" y2="1259.60" stroke="#000" stroke-width="2" stroke-linecap="butt"/>
<line x1="586.00" y1="1254.10" x2="586.00" y2="1259.60" stroke="#000" stroke-width="2" stroke-linecap="butt"/>
<line x1="622.30" y1="1254.10" x2="622.30" y2="1259.60" stroke="#000" stroke-width="2" stroke-linecap="butt"/>
<line x1="657.90" y1="1254.10" x2="657.90" y2="1259.60" stroke="#000" stroke-width="2" stroke-linecap="butt"/>
<text x="430.60" y="1282.60" font-size="33" >A</text>
<text x="640.30" y="1282.60" font-size="33" >P</text>
<line x1="501.10" y1="1275.90" x2="583.00" y2="1275.90" stroke="#000" stroke-width="5.4" stroke-linecap="butt"/>
<path d="M601.0,1275.9 L577.0,1266.7 L579.5,1275.9 L577.0,1285.1 Z" fill="#000"/>
<text x="359.80" y="1115.40" font-size="21.8" font-weight="bold" text-anchor="middle" transform="rotate(-90 359.80 1115.40)" textLength="200.3" lengthAdjust="spacingAndGlyphs" >Mean ML position (µm)</text>
<text x="382.80" y="1116.40" font-size="21.8" font-weight="bold" text-anchor="middle" transform="rotate(-90 382.80 1116.40)" textLength="121.1" lengthAdjust="spacingAndGlyphs" >relative to (x0)</text>
<polyline points="442.00,1073.74 477.80,1074.87 513.90,1070.72 550.10,1066.75 586.00,1050.13 622.30,1041.82 657.90,1012.36" fill="none" stroke="#0b0be6" stroke-width="2.1" stroke-dasharray="9 4.2"/>
<line x1="442.00" y1="1066.56" x2="442.00" y2="1073.74" stroke="#0b0be6" stroke-width="2" stroke-linecap="butt"/>
<line x1="436.50" y1="1066.56" x2="447.50" y2="1066.56" stroke="#0b0be6" stroke-width="2.2" stroke-linecap="butt"/>
<circle cx="442.00" cy="1073.74" r="4.60" fill="none" stroke="#0b0be6" stroke-width="1.6"/>
<line x1="477.80" y1="1068.45" x2="477.80" y2="1074.87" stroke="#0b0be6" stroke-width="2" stroke-linecap="butt"/>
<line x1="472.30" y1="1068.45" x2="483.30" y2="1068.45" stroke="#0b0be6" stroke-width="2.2" stroke-linecap="butt"/>
<circle cx="477.80" cy="1074.87" r="4.60" fill="none" stroke="#0b0be6" stroke-width="1.6"/>
<line x1="513.90" y1="1063.54" x2="513.90" y2="1070.72" stroke="#0b0be6" stroke-width="2" stroke-linecap="butt"/>
<line x1="508.40" y1="1063.54" x2="519.40" y2="1063.54" stroke="#0b0be6" stroke-width="2.2" stroke-linecap="butt"/>
<circle cx="513.90" cy="1070.72" r="4.60" fill="none" stroke="#0b0be6" stroke-width="1.6"/>
<line x1="550.10" y1="1060.14" x2="550.10" y2="1066.75" stroke="#0b0be6" stroke-width="2" stroke-linecap="butt"/>
<line x1="544.60" y1="1060.14" x2="555.60" y2="1060.14" stroke="#0b0be6" stroke-width="2.2" stroke-linecap="butt"/>
<circle cx="550.10" cy="1066.75" r="4.60" fill="none" stroke="#0b0be6" stroke-width="1.6"/>
<line x1="586.00" y1="1040.69" x2="586.00" y2="1050.13" stroke="#0b0be6" stroke-width="2" stroke-linecap="butt"/>
<line x1="580.50" y1="1040.69" x2="591.50" y2="1040.69" stroke="#0b0be6" stroke-width="2.2" stroke-linecap="butt"/>
<circle cx="586.00" cy="1050.13" r="4.60" fill="none" stroke="#0b0be6" stroke-width="1.6"/>
<line x1="622.30" y1="1033.51" x2="622.30" y2="1041.82" stroke="#0b0be6" stroke-width="2" stroke-linecap="butt"/>
<line x1="616.80" y1="1033.51" x2="627.80" y2="1033.51" stroke="#0b0be6" stroke-width="2.2" stroke-linecap="butt"/>
<circle cx="622.30" cy="1041.82" r="4.60" fill="none" stroke="#0b0be6" stroke-width="1.6"/>
<line x1="657.90" y1="1007.07" x2="657.90" y2="1012.36" stroke="#0b0be6" stroke-width="2" stroke-linecap="butt"/>
<line x1="652.40" y1="1007.07" x2="663.40" y2="1007.07" stroke="#0b0be6" stroke-width="2.2" stroke-linecap="butt"/>
<circle cx="657.90" cy="1012.36" r="4.60" fill="none" stroke="#0b0be6" stroke-width="1.6"/>
<polyline points="442.00,1074.69 477.80,1079.22 513.90,1077.71 550.10,1077.33 586.00,1070.15 622.30,1052.02 657.90,1040.69" fill="none" stroke="#f5841f" stroke-width="2.1" stroke-dasharray="9 4.2"/>
<line x1="442.00" y1="1074.69" x2="442.00" y2="1089.04" stroke="#f5841f" stroke-width="2" stroke-linecap="butt"/>
<line x1="436.50" y1="1089.04" x2="447.50" y2="1089.04" stroke="#f5841f" stroke-width="2.2" stroke-linecap="butt"/>
<rect x="437.00" y="1069.69" width="10.00" height="10.00" fill="none" stroke="#f5841f" stroke-width="1.6"/>
<rect x="472.80" y="1074.22" width="10.00" height="10.00" fill="none" stroke="#f5841f" stroke-width="1.6"/>
<rect x="508.90" y="1072.71" width="10.00" height="10.00" fill="none" stroke="#f5841f" stroke-width="1.6"/>
<rect x="545.10" y="1072.33" width="10.00" height="10.00" fill="none" stroke="#f5841f" stroke-width="1.6"/>
<rect x="581.00" y="1065.15" width="10.00" height="10.00" fill="none" stroke="#f5841f" stroke-width="1.6"/>
<rect x="617.30" y="1047.02" width="10.00" height="10.00" fill="none" stroke="#f5841f" stroke-width="1.6"/>
<line x1="657.90" y1="1040.69" x2="657.90" y2="1054.86" stroke="#f5841f" stroke-width="2" stroke-linecap="butt"/>
<line x1="652.40" y1="1054.86" x2="663.40" y2="1054.86" stroke="#f5841f" stroke-width="2.2" stroke-linecap="butt"/>
<rect x="652.90" y="1035.69" width="10.00" height="10.00" fill="none" stroke="#f5841f" stroke-width="1.6"/>
<polyline points="442.00,1069.02 477.80,1087.72 513.90,1088.47 550.10,1087.34 586.00,1085.45 622.30,1045.41 657.90,1060.71" fill="none" stroke="#0b0be6" stroke-width="2.1"/>
<line x1="442.00" y1="1069.02" x2="442.00" y2="1079.60" stroke="#0b0be6" stroke-width="2" stroke-linecap="butt"/>
<line x1="436.50" y1="1079.60" x2="447.50" y2="1079.60" stroke="#0b0be6" stroke-width="2.2" stroke-linecap="butt"/>
<circle cx="442.00" cy="1069.02" r="3.70" fill="#0b0be6"/>
<line x1="477.80" y1="1087.72" x2="477.80" y2="1095.46" stroke="#0b0be6" stroke-width="2" stroke-linecap="butt"/>
<line x1="472.30" y1="1095.46" x2="483.30" y2="1095.46" stroke="#0b0be6" stroke-width="2.2" stroke-linecap="butt"/>
<circle cx="477.80" cy="1087.72" r="3.70" fill="#0b0be6"/>
<line x1="513.90" y1="1088.47" x2="513.90" y2="1093.00" stroke="#0b0be6" stroke-width="2" stroke-linecap="butt"/>
<line x1="508.40" y1="1093.00" x2="519.40" y2="1093.00" stroke="#0b0be6" stroke-width="2.2" stroke-linecap="butt"/>
<circle cx="513.90" cy="1088.47" r="3.70" fill="#0b0be6"/>
<line x1="550.10" y1="1087.34" x2="550.10" y2="1091.31" stroke="#0b0be6" stroke-width="2" stroke-linecap="butt"/>
<line x1="544.60" y1="1091.31" x2="555.60" y2="1091.31" stroke="#0b0be6" stroke-width="2.2" stroke-linecap="butt"/>
<circle cx="550.10" cy="1087.34" r="3.70" fill="#0b0be6"/>
<line x1="586.00" y1="1085.45" x2="586.00" y2="1094.89" stroke="#0b0be6" stroke-width="2" stroke-linecap="butt"/>
<line x1="580.50" y1="1094.89" x2="591.50" y2="1094.89" stroke="#0b0be6" stroke-width="2.2" stroke-linecap="butt"/>
<circle cx="586.00" cy="1085.45" r="3.70" fill="#0b0be6"/>
<line x1="622.30" y1="1045.41" x2="622.30" y2="1070.72" stroke="#0b0be6" stroke-width="2" stroke-linecap="butt"/>
<line x1="616.80" y1="1070.72" x2="627.80" y2="1070.72" stroke="#0b0be6" stroke-width="2.2" stroke-linecap="butt"/>
<circle cx="622.30" cy="1045.41" r="3.70" fill="#0b0be6"/>
<line x1="657.90" y1="1060.71" x2="657.90" y2="1067.13" stroke="#0b0be6" stroke-width="2" stroke-linecap="butt"/>
<line x1="652.40" y1="1067.13" x2="663.40" y2="1067.13" stroke="#0b0be6" stroke-width="2.2" stroke-linecap="butt"/>
<circle cx="657.90" cy="1060.71" r="3.70" fill="#0b0be6"/>
<polyline points="442.00,1054.29 477.80,1079.60 513.90,1080.16 550.10,1077.71 586.00,1074.31 622.30,1054.29 657.90,1031.82" fill="none" stroke="#f5841f" stroke-width="2.1"/>
<rect x="438.30" y="1050.59" width="7.40" height="7.40" fill="#f5841f"/>
<line x1="477.80" y1="1079.60" x2="477.80" y2="1086.58" stroke="#f5841f" stroke-width="2" stroke-linecap="butt"/>
<line x1="472.30" y1="1086.58" x2="483.30" y2="1086.58" stroke="#f5841f" stroke-width="2.2" stroke-linecap="butt"/>
<rect x="474.10" y="1075.90" width="7.40" height="7.40" fill="#f5841f"/>
<rect x="510.20" y="1076.46" width="7.40" height="7.40" fill="#f5841f"/>
<rect x="546.40" y="1074.01" width="7.40" height="7.40" fill="#f5841f"/>
<rect x="582.30" y="1070.61" width="7.40" height="7.40" fill="#f5841f"/>
<line x1="622.30" y1="1054.29" x2="622.30" y2="1063.17" stroke="#f5841f" stroke-width="2" stroke-linecap="butt"/>
<line x1="616.80" y1="1063.17" x2="627.80" y2="1063.17" stroke="#f5841f" stroke-width="2.2" stroke-linecap="butt"/>
<rect x="618.60" y="1050.59" width="7.40" height="7.40" fill="#f5841f"/>
<rect x="654.20" y="1028.12" width="7.40" height="7.40" fill="#f5841f"/>
<line x1="441.80" y1="1163.30" x2="454.80" y2="1163.30" stroke="#0b0be6" stroke-width="2" stroke-linecap="butt"/>
<circle cx="448.30" cy="1163.30" r="5.06" fill="none" stroke="#0b0be6" stroke-width="1.6"/>
<line x1="441.80" y1="1182.20" x2="454.80" y2="1182.20" stroke="#f5841f" stroke-width="2" stroke-linecap="butt"/>
<rect x="442.80" y="1176.70" width="11.00" height="11.00" fill="none" stroke="#f5841f" stroke-width="1.6"/>
<line x1="441.80" y1="1197.60" x2="454.80" y2="1197.60" stroke="#0b0be6" stroke-width="2" stroke-linecap="butt"/>
<circle cx="448.30" cy="1197.60" r="3.70" fill="#0b0be6"/>
<line x1="441.80" y1="1216.70" x2="454.80" y2="1216.70" stroke="#f5841f" stroke-width="2" stroke-linecap="butt"/>
<rect x="444.60" y="1213.00" width="7.40" height="7.40" fill="#f5841f"/>
<text x="461.10" y="1167.70" font-size="14" >CON-VEH</text>
<text x="461.10" y="1185.10" font-size="14" >CON-VIT<tspan font-size="11.5" dy="3.5">D</tspan></text>
<text x="461.10" y="1202.50" font-size="14" >POL-VEH</text>
<text x="461.10" y="1219.30" font-size="14" >POL-VIT<tspan font-size="11.5" dy="3.5">D</tspan></text>
<line x1="530.40" y1="1160.20" x2="530.40" y2="1218.90" stroke="#000" stroke-width="2.2" stroke-linecap="butt"/>
<text x="536.50" y="1194.20" font-size="33" >n.s.</text>
<line x1="795.90" y1="987.60" x2="795.90" y2="1257.30" stroke="#000" stroke-width="2.6" stroke-linecap="butt"/>
<line x1="794.60" y1="1256.10" x2="1061.70" y2="1256.10" stroke="#000" stroke-width="2.6" stroke-linecap="butt"/>
<line x1="790.40" y1="988.60" x2="795.90" y2="988.60" stroke="#000" stroke-width="2" stroke-linecap="butt"/>
<text x="789.20" y="993.60" font-size="14.8" font-weight="bold" text-anchor="end" textLength="13.1" lengthAdjust="spacingAndGlyphs" >20</text>
<line x1="790.40" y1="1033.18" x2="795.90" y2="1033.18" stroke="#000" stroke-width="2" stroke-linecap="butt"/>
<text x="789.20" y="1038.18" font-size="14.8" font-weight="bold" text-anchor="end" textLength="6.55" lengthAdjust="spacingAndGlyphs" >0</text>
<line x1="790.40" y1="1077.77" x2="795.90" y2="1077.77" stroke="#000" stroke-width="2" stroke-linecap="butt"/>
<text x="789.20" y="1082.77" font-size="14.8" font-weight="bold" text-anchor="end" textLength="17.46" lengthAdjust="spacingAndGlyphs" >-20</text>
<line x1="790.40" y1="1122.35" x2="795.90" y2="1122.35" stroke="#000" stroke-width="2" stroke-linecap="butt"/>
<text x="789.20" y="1127.35" font-size="14.8" font-weight="bold" text-anchor="end" textLength="17.46" lengthAdjust="spacingAndGlyphs" >-40</text>
<line x1="790.40" y1="1166.93" x2="795.90" y2="1166.93" stroke="#000" stroke-width="2" stroke-linecap="butt"/>
<text x="789.20" y="1171.93" font-size="14.8" font-weight="bold" text-anchor="end" textLength="17.46" lengthAdjust="spacingAndGlyphs" >-60</text>
<line x1="790.40" y1="1211.52" x2="795.90" y2="1211.52" stroke="#000" stroke-width="2" stroke-linecap="butt"/>
<text x="789.20" y="1216.52" font-size="14.8" font-weight="bold" text-anchor="end" textLength="17.46" lengthAdjust="spacingAndGlyphs" >-80</text>
<line x1="790.40" y1="1256.10" x2="795.90" y2="1256.10" stroke="#000" stroke-width="2" stroke-linecap="butt"/>
<text x="789.20" y="1261.10" font-size="14.8" font-weight="bold" text-anchor="end" textLength="24.01" lengthAdjust="spacingAndGlyphs" >-100</text>
<line x1="819.30" y1="1256.10" x2="819.30" y2="1261.60" stroke="#000" stroke-width="2" stroke-linecap="butt"/>
<line x1="855.80" y1="1256.10" x2="855.80" y2="1261.60" stroke="#000" stroke-width="2" stroke-linecap="butt"/>
<line x1="891.90" y1="1256.10" x2="891.90" y2="1261.60" stroke="#000" stroke-width="2" stroke-linecap="butt"/>
<line x1="928.60" y1="1256.10" x2="928.60" y2="1261.60" stroke="#000" stroke-width="2" stroke-linecap="butt"/>
<line x1="965.20" y1="1256.10" x2="965.20" y2="1261.60" stroke="#000" stroke-width="2" stroke-linecap="butt"/>
<line x1="1001.10" y1="1256.10" x2="1001.10" y2="1261.60" stroke="#000" stroke-width="2" stroke-linecap="butt"/>
<line x1="1037.60" y1="1256.10" x2="1037.60" y2="1261.60" stroke="#000" stroke-width="2" stroke-linecap="butt"/>
<line x1="795.90" y1="1033.18" x2="1061.70" y2="1033.18" stroke="#000" stroke-width="2" stroke-dasharray="2.2 2"/>
<text x="807.80" y="1284.40" font-size="33" >A</text>
<text x="1017.90" y="1284.40" font-size="33" >P</text>
<line x1="879.00" y1="1276.40" x2="961.50" y2="1276.40" stroke="#000" stroke-width="5.4" stroke-linecap="butt"/>
<path d="M979.5,1276.4 L955.5,1267.2 L958.0,1276.4 L955.5,1285.6 Z" fill="#000"/>
<text x="732.30" y="1115.80" font-size="21.8" font-weight="bold" text-anchor="middle" transform="rotate(-90 732.30 1115.80)" textLength="202.4" lengthAdjust="spacingAndGlyphs" >Mean DV position (µm)</text>
<text x="756.10" y="1113.50" font-size="21.8" font-weight="bold" text-anchor="middle" transform="rotate(-90 756.10 1113.50)" textLength="114.2" lengthAdjust="spacingAndGlyphs" >relative to (y<tspan font-size="16" dy="4.5">0</tspan><tspan dy="-4.5">)</tspan></text>
<polyline points="819.30,1126.59 855.80,1104.52 891.90,1113.43 928.60,1104.52 965.20,1112.99 1001.10,1137.51 1037.60,1123.46" fill="none" stroke="#0b0be6" stroke-width="2.1" stroke-dasharray="9 4.2"/>
<line x1="819.30" y1="1126.59" x2="819.30" y2="1147.99" stroke="#0b0be6" stroke-width="2" stroke-linecap="butt"/>
<line x1="813.80" y1="1147.99" x2="824.80" y2="1147.99" stroke="#0b0be6" stroke-width="2.2" stroke-linecap="butt"/>
<circle cx="819.30" cy="1126.59" r="4.60" fill="none" stroke="#0b0be6" stroke-width="1.6"/>
<line x1="855.80" y1="1104.52" x2="855.80" y2="1120.79" stroke="#0b0be6" stroke-width="2" stroke-linecap="butt"/>
<line x1="850.30" y1="1120.79" x2="861.30" y2="1120.79" stroke="#0b0be6" stroke-width="2.2" stroke-linecap="butt"/>
<circle cx="855.80" cy="1104.52" r="4.60" fill="none" stroke="#0b0be6" stroke-width="1.6"/>
<line x1="891.90" y1="1113.43" x2="891.90" y2="1134.39" stroke="#0b0be6" stroke-width="2" stroke-linecap="butt"/>
<line x1="886.40" y1="1134.39" x2="897.40" y2="1134.39" stroke="#0b0be6" stroke-width="2.2" stroke-linecap="butt"/>
<circle cx="891.90" cy="1113.43" r="4.60" fill="none" stroke="#0b0be6" stroke-width="1.6"/>
<line x1="928.60" y1="1104.52" x2="928.60" y2="1125.03" stroke="#0b0be6" stroke-width="2" stroke-linecap="butt"/>
<line x1="923.10" y1="1125.03" x2="934.10" y2="1125.03" stroke="#0b0be6" stroke-width="2.2" stroke-linecap="butt"/>
<circle cx="928.60" cy="1104.52" r="4.60" fill="none" stroke="#0b0be6" stroke-width="1.6"/>
<line x1="965.20" y1="1112.99" x2="965.20" y2="1128.37" stroke="#0b0be6" stroke-width="2" stroke-linecap="butt"/>
<line x1="959.70" y1="1128.37" x2="970.70" y2="1128.37" stroke="#0b0be6" stroke-width="2.2" stroke-linecap="butt"/>
<circle cx="965.20" cy="1112.99" r="4.60" fill="none" stroke="#0b0be6" stroke-width="1.6"/>
<line x1="1001.10" y1="1137.51" x2="1001.10" y2="1158.24" stroke="#0b0be6" stroke-width="2" stroke-linecap="butt"/>
<line x1="995.60" y1="1158.24" x2="1006.60" y2="1158.24" stroke="#0b0be6" stroke-width="2.2" stroke-linecap="butt"/>
<circle cx="1001.10" cy="1137.51" r="4.60" fill="none" stroke="#0b0be6" stroke-width="1.6"/>
<line x1="1037.60" y1="1117.00" x2="1037.60" y2="1123.46" stroke="#0b0be6" stroke-width="2" stroke-linecap="butt"/>
<line x1="1032.10" y1="1117.00" x2="1043.10" y2="1117.00" stroke="#0b0be6" stroke-width="2.2" stroke-linecap="butt"/>
<circle cx="1037.60" cy="1123.46" r="4.60" fill="none" stroke="#0b0be6" stroke-width="1.6"/>
<polyline points="819.30,1106.97 855.80,1067.29 891.90,1066.40 928.60,1068.63 965.20,1075.54 1001.10,1094.49 1037.60,1154.45" fill="none" stroke="#f5841f" stroke-width="2.1" stroke-dasharray="9 4.2"/>
<line x1="819.30" y1="1074.87" x2="819.30" y2="1106.97" stroke="#f5841f" stroke-width="2" stroke-linecap="butt"/>
<line x1="813.80" y1="1074.87" x2="824.80" y2="1074.87" stroke="#f5841f" stroke-width="2.2" stroke-linecap="butt"/>
<rect x="814.30" y="1101.97" width="10.00" height="10.00" fill="none" stroke="#f5841f" stroke-width="1.6"/>
<line x1="855.80" y1="1040.09" x2="855.80" y2="1067.29" stroke="#f5841f" stroke-width="2" stroke-linecap="butt"/>
<line x1="850.30" y1="1040.09" x2="861.30" y2="1040.09" stroke="#f5841f" stroke-width="2.2" stroke-linecap="butt"/>
<rect x="850.80" y="1062.29" width="10.00" height="10.00" fill="none" stroke="#f5841f" stroke-width="1.6"/>
<line x1="891.90" y1="1044.78" x2="891.90" y2="1066.40" stroke="#f5841f" stroke-width="2" stroke-linecap="butt"/>
<line x1="886.40" y1="1044.78" x2="897.40" y2="1044.78" stroke="#f5841f" stroke-width="2.2" stroke-linecap="butt"/>
<rect x="886.90" y="1061.40" width="10.00" height="10.00" fill="none" stroke="#f5841f" stroke-width="1.6"/>
<line x1="928.60" y1="1041.43" x2="928.60" y2="1068.63" stroke="#f5841f" stroke-width="2" stroke-linecap="butt"/>
<line x1="923.10" y1="1041.43" x2="934.10" y2="1041.43" stroke="#f5841f" stroke-width="2.2" stroke-linecap="butt"/>
<rect x="923.60" y="1063.63" width="10.00" height="10.00" fill="none" stroke="#f5841f" stroke-width="1.6"/>
<line x1="965.20" y1="1046.56" x2="965.20" y2="1075.54" stroke="#f5841f" stroke-width="2" stroke-linecap="butt"/>
<line x1="959.70" y1="1046.56" x2="970.70" y2="1046.56" stroke="#f5841f" stroke-width="2.2" stroke-linecap="butt"/>
<rect x="960.20" y="1070.54" width="10.00" height="10.00" fill="none" stroke="#f5841f" stroke-width="1.6"/>
<line x1="1001.10" y1="1052.80" x2="1001.10" y2="1094.49" stroke="#f5841f" stroke-width="2" stroke-linecap="butt"/>
<line x1="995.60" y1="1052.80" x2="1006.60" y2="1052.80" stroke="#f5841f" stroke-width="2.2" stroke-linecap="butt"/>
<rect x="996.10" y="1089.49" width="10.00" height="10.00" fill="none" stroke="#f5841f" stroke-width="1.6"/>
<line x1="1037.60" y1="1075.09" x2="1037.60" y2="1154.45" stroke="#f5841f" stroke-width="2" stroke-linecap="butt"/>
<line x1="1032.10" y1="1075.09" x2="1043.10" y2="1075.09" stroke="#f5841f" stroke-width="2.2" stroke-linecap="butt"/>
<rect x="1032.60" y="1149.45" width="10.00" height="10.00" fill="none" stroke="#f5841f" stroke-width="1.6"/>
<polyline points="819.30,1062.16 855.80,1049.46 891.90,1050.12 928.60,1050.79 965.20,1047.00 1001.10,1106.52 1037.60,1131.04" fill="none" stroke="#0b0be6" stroke-width="2.1"/>
<line x1="819.30" y1="1048.79" x2="819.30" y2="1062.16" stroke="#0b0be6" stroke-width="2" stroke-linecap="butt"/>
<line x1="813.80" y1="1048.79" x2="824.80" y2="1048.79" stroke="#0b0be6" stroke-width="2.2" stroke-linecap="butt"/>
<circle cx="819.30" cy="1062.16" r="3.70" fill="#0b0be6"/>
<line x1="855.80" y1="1037.20" x2="855.80" y2="1049.46" stroke="#0b0be6" stroke-width="2" stroke-linecap="butt"/>
<line x1="850.30" y1="1037.20" x2="861.30" y2="1037.20" stroke="#0b0be6" stroke-width="2.2" stroke-linecap="butt"/>
<circle cx="855.80" cy="1049.46" r="3.70" fill="#0b0be6"/>
<line x1="891.90" y1="1032.51" x2="891.90" y2="1050.12" stroke="#0b0be6" stroke-width="2" stroke-linecap="butt"/>
<line x1="886.40" y1="1032.51" x2="897.40" y2="1032.51" stroke="#0b0be6" stroke-width="2.2" stroke-linecap="butt"/>
<circle cx="891.90" cy="1050.12" r="3.70" fill="#0b0be6"/>
<line x1="928.60" y1="1033.85" x2="928.60" y2="1050.79" stroke="#0b0be6" stroke-width="2" stroke-linecap="butt"/>
<line x1="923.10" y1="1033.85" x2="934.10" y2="1033.85" stroke="#0b0be6" stroke-width="2.2" stroke-linecap="butt"/>
<circle cx="928.60" cy="1050.79" r="3.70" fill="#0b0be6"/>
<line x1="965.20" y1="1027.83" x2="965.20" y2="1047.00" stroke="#0b0be6" stroke-width="2" stroke-linecap="butt"/>
<line x1="959.70" y1="1027.83" x2="970.70" y2="1027.83" stroke="#0b0be6" stroke-width="2.2" stroke-linecap="butt"/>
<circle cx="965.20" cy="1047.00" r="3.70" fill="#0b0be6"/>
<line x1="1001.10" y1="1075.09" x2="1001.10" y2="1106.52" stroke="#0b0be6" stroke-width="2" stroke-linecap="butt"/>
<line x1="995.60" y1="1075.09" x2="1006.60" y2="1075.09" stroke="#0b0be6" stroke-width="2.2" stroke-linecap="butt"/>
<circle cx="1001.10" cy="1106.52" r="3.70" fill="#0b0be6"/>
<circle cx="1037.60" cy="1131.04" r="3.70" fill="#0b0be6"/>
<polyline points="819.30,1114.99 855.80,1105.19 891.90,1081.56 928.60,1081.56 965.20,1107.86 1001.10,1090.25 1037.60,1166.49" fill="none" stroke="#f5841f" stroke-width="2.1"/>
<rect x="815.60" y="1111.29" width="7.40" height="7.40" fill="#f5841f"/>
<line x1="855.80" y1="1087.58" x2="855.80" y2="1105.19" stroke="#f5841f" stroke-width="2" stroke-linecap="butt"/>
<line x1="850.30" y1="1087.58" x2="861.30" y2="1087.58" stroke="#f5841f" stroke-width="2.2" stroke-linecap="butt"/>
<rect x="852.10" y="1101.49" width="7.40" height="7.40" fill="#f5841f"/>
<rect x="888.20" y="1077.86" width="7.40" height="7.40" fill="#f5841f"/>
<rect x="924.90" y="1077.86" width="7.40" height="7.40" fill="#f5841f"/>
<line x1="965.20" y1="1091.14" x2="965.20" y2="1107.86" stroke="#f5841f" stroke-width="2" stroke-linecap="butt"/>
<line x1="959.70" y1="1091.14" x2="970.70" y2="1091.14" stroke="#f5841f" stroke-width="2.2" stroke-linecap="butt"/>
<rect x="961.50" y="1104.16" width="7.40" height="7.40" fill="#f5841f"/>
<line x1="1001.10" y1="1072.86" x2="1001.10" y2="1090.25" stroke="#f5841f" stroke-width="2" stroke-linecap="butt"/>
<line x1="995.60" y1="1072.86" x2="1006.60" y2="1072.86" stroke="#f5841f" stroke-width="2.2" stroke-linecap="butt"/>
<rect x="997.40" y="1086.55" width="7.40" height="7.40" fill="#f5841f"/>
<rect x="1033.90" y="1162.79" width="7.40" height="7.40" fill="#f5841f"/>
<line x1="823.70" y1="1167.80" x2="836.70" y2="1167.80" stroke="#0b0be6" stroke-width="2" stroke-linecap="butt"/>
<circle cx="830.20" cy="1167.80" r="5.06" fill="none" stroke="#0b0be6" stroke-width="1.6"/>
<line x1="823.70" y1="1184.70" x2="836.70" y2="1184.70" stroke="#f5841f" stroke-width="2" stroke-linecap="butt"/>
<rect x="824.70" y="1179.20" width="11.00" height="11.00" fill="none" stroke="#f5841f" stroke-width="1.6"/>
<line x1="823.70" y1="1202.10" x2="836.70" y2="1202.10" stroke="#0b0be6" stroke-width="2" stroke-linecap="butt"/>
<circle cx="830.20" cy="1202.10" r="3.70" fill="#0b0be6"/>
<line x1="823.70" y1="1219.50" x2="836.70" y2="1219.50" stroke="#f5841f" stroke-width="2" stroke-linecap="butt"/>
<rect x="826.50" y="1215.80" width="7.40" height="7.40" fill="#f5841f"/>
<text x="842.90" y="1172.10" font-size="14" >CON-VEH</text>
<text x="842.90" y="1189.50" font-size="14" >CON-VitD</text>
<text x="842.90" y="1206.50" font-size="14" >POL-VEH</text>
<text x="842.90" y="1223.90" font-size="14" >POL-VitD</text>
<polyline points="910.7,1165.2 923.1,1165.2 923.1,1202.1 910.7,1202.1" fill="none" stroke="#000" stroke-width="2.4"/>
<line x1="409.10" y1="1514.50" x2="409.10" y2="1775.70" stroke="#000" stroke-width="2.6" stroke-linecap="butt"/>
<line x1="407.80" y1="1774.50" x2="666.20" y2="1774.50" stroke="#000" stroke-width="2.6" stroke-linecap="butt"/>
<line x1="403.60" y1="1774.50" x2="409.10" y2="1774.50" stroke="#000" stroke-width="2" stroke-linecap="butt"/>
<text x="402.40" y="1779.50" font-size="14.8" font-weight="bold" text-anchor="end" textLength="6.55" lengthAdjust="spacingAndGlyphs" >0</text>
<line x1="403.60" y1="1737.50" x2="409.10" y2="1737.50" stroke="#000" stroke-width="2" stroke-linecap="butt"/>
<text x="402.40" y="1742.50" font-size="14.8" font-weight="bold" text-anchor="end" textLength="13.1" lengthAdjust="spacingAndGlyphs" >20</text>
<line x1="403.60" y1="1700.50" x2="409.10" y2="1700.50" stroke="#000" stroke-width="2" stroke-linecap="butt"/>
<text x="402.40" y="1705.50" font-size="14.8" font-weight="bold" text-anchor="end" textLength="13.1" lengthAdjust="spacingAndGlyphs" >40</text>
<line x1="403.60" y1="1663.50" x2="409.10" y2="1663.50" stroke="#000" stroke-width="2" stroke-linecap="butt"/>
<text x="402.40" y="1668.50" font-size="14.8" font-weight="bold" text-anchor="end" textLength="13.1" lengthAdjust="spacingAndGlyphs" >60</text>
<line x1="403.60" y1="1626.50" x2="409.10" y2="1626.50" stroke="#000" stroke-width="2" stroke-linecap="butt"/>
<text x="402.40" y="1631.50" font-size="14.8" font-weight="bold" text-anchor="end" textLength="13.1" lengthAdjust="spacingAndGlyphs" >80</text>
<line x1="403.60" y1="1589.50" x2="409.10" y2="1589.50" stroke="#000" stroke-width="2" stroke-linecap="butt"/>
<text x="402.40" y="1594.50" font-size="14.8" font-weight="bold" text-anchor="end" textLength="19.65" lengthAdjust="spacingAndGlyphs" >100</text>
<line x1="403.60" y1="1552.50" x2="409.10" y2="1552.50" stroke="#000" stroke-width="2" stroke-linecap="butt"/>
<text x="402.40" y="1557.50" font-size="14.8" font-weight="bold" text-anchor="end" textLength="19.65" lengthAdjust="spacingAndGlyphs" >120</text>
<line x1="403.60" y1="1515.50" x2="409.10" y2="1515.50" stroke="#000" stroke-width="2" stroke-linecap="butt"/>
<text x="402.40" y="1520.50" font-size="14.8" font-weight="bold" text-anchor="end" textLength="19.65" lengthAdjust="spacingAndGlyphs" >140</text>
<line x1="432.80" y1="1774.50" x2="432.80" y2="1780.00" stroke="#000" stroke-width="2" stroke-linecap="butt"/>
<line x1="468.30" y1="1774.50" x2="468.30" y2="1780.00" stroke="#000" stroke-width="2" stroke-linecap="butt"/>
<line x1="503.30" y1="1774.50" x2="503.30" y2="1780.00" stroke="#000" stroke-width="2" stroke-linecap="butt"/>
<line x1="538.90" y1="1774.50" x2="538.90" y2="1780.00" stroke="#000" stroke-width="2" stroke-linecap="butt"/>
<line x1="574.20" y1="1774.50" x2="574.20" y2="1780.00" stroke="#000" stroke-width="2" stroke-linecap="butt"/>
<line x1="609.60" y1="1774.50" x2="609.60" y2="1780.00" stroke="#000" stroke-width="2" stroke-linecap="butt"/>
<line x1="644.90" y1="1774.50" x2="644.90" y2="1780.00" stroke="#000" stroke-width="2" stroke-linecap="butt"/>
<text x="421.60" y="1803.70" font-size="33" >A</text>
<text x="631.70" y="1803.70" font-size="33" >P</text>
<line x1="492.20" y1="1796.10" x2="575.20" y2="1796.10" stroke="#000" stroke-width="5.4" stroke-linecap="butt"/>
<path d="M593.2,1796.1 L569.2,1786.9 L571.7,1796.1 L569.2,1805.3 Z" fill="#000"/>
<text x="349.30" y="1638.70" font-size="21.8" font-weight="bold" text-anchor="middle" transform="rotate(-90 349.30 1638.70)" textLength="197.7" lengthAdjust="spacingAndGlyphs" >Mean ML position (µm)</text>
<text x="371.70" y="1640.00" font-size="21.8" font-weight="bold" text-anchor="middle" transform="rotate(-90 371.70 1640.00)" textLength="117.8" lengthAdjust="spacingAndGlyphs" >relative to (x<tspan font-size="16" dy="4.5">0</tspan><tspan dy="-4.5">)</tspan></text>
<polyline points="432.80,1602.63 468.30,1609.11 503.30,1607.08 538.90,1595.61 574.20,1592.46 609.60,1576.55 644.90,1553.61" fill="none" stroke="#0b0be6" stroke-width="2.1" stroke-dasharray="9 4.2"/>
<line x1="432.80" y1="1598.38" x2="432.80" y2="1602.63" stroke="#0b0be6" stroke-width="2" stroke-linecap="butt"/>
<line x1="427.30" y1="1598.38" x2="438.30" y2="1598.38" stroke="#0b0be6" stroke-width="2.2" stroke-linecap="butt"/>
<circle cx="432.80" cy="1602.63" r="4.60" fill="none" stroke="#0b0be6" stroke-width="1.6"/>
<line x1="468.30" y1="1600.97" x2="468.30" y2="1609.11" stroke="#0b0be6" stroke-width="2" stroke-linecap="butt"/>
<line x1="462.80" y1="1600.97" x2="473.80" y2="1600.97" stroke="#0b0be6" stroke-width="2.2" stroke-linecap="butt"/>
<circle cx="468.30" cy="1609.11" r="4.60" fill="none" stroke="#0b0be6" stroke-width="1.6"/>
<line x1="503.30" y1="1595.05" x2="503.30" y2="1607.08" stroke="#0b0be6" stroke-width="2" stroke-linecap="butt"/>
<line x1="497.80" y1="1595.05" x2="508.80" y2="1595.05" stroke="#0b0be6" stroke-width="2.2" stroke-linecap="butt"/>
<circle cx="503.30" cy="1607.08" r="4.60" fill="none" stroke="#0b0be6" stroke-width="1.6"/>
<line x1="538.90" y1="1582.47" x2="538.90" y2="1595.61" stroke="#0b0be6" stroke-width="2" stroke-linecap="butt"/>
<line x1="533.40" y1="1582.47" x2="544.40" y2="1582.47" stroke="#0b0be6" stroke-width="2.2" stroke-linecap="butt"/>
<circle cx="538.90" cy="1595.61" r="4.60" fill="none" stroke="#0b0be6" stroke-width="1.6"/>
<line x1="574.20" y1="1584.88" x2="574.20" y2="1592.46" stroke="#0b0be6" stroke-width="2" stroke-linecap="butt"/>
<line x1="568.70" y1="1584.88" x2="579.70" y2="1584.88" stroke="#0b0be6" stroke-width="2.2" stroke-linecap="butt"/>
<circle cx="574.20" cy="1592.46" r="4.60" fill="none" stroke="#0b0be6" stroke-width="1.6"/>
<line x1="609.60" y1="1568.22" x2="609.60" y2="1576.55" stroke="#0b0be6" stroke-width="2" stroke-linecap="butt"/>
<line x1="604.10" y1="1568.22" x2="615.10" y2="1568.22" stroke="#0b0be6" stroke-width="2.2" stroke-linecap="butt"/>
<circle cx="609.60" cy="1576.55" r="4.60" fill="none" stroke="#0b0be6" stroke-width="1.6"/>
<line x1="644.90" y1="1535.30" x2="644.90" y2="1553.61" stroke="#0b0be6" stroke-width="2" stroke-linecap="butt"/>
<line x1="639.40" y1="1535.30" x2="650.40" y2="1535.30" stroke="#0b0be6" stroke-width="2.2" stroke-linecap="butt"/>
<circle cx="644.90" cy="1553.61" r="4.60" fill="none" stroke="#0b0be6" stroke-width="1.6"/>
<polyline points="432.80,1578.21 468.30,1620.03 503.30,1626.50 538.90,1607.63 574.20,1612.62 609.60,1602.45 644.90,1580.25" fill="none" stroke="#f5841f" stroke-width="2.1" stroke-dasharray="9 4.2"/>
<line x1="432.80" y1="1578.21" x2="432.80" y2="1591.72" stroke="#f5841f" stroke-width="2" stroke-linecap="butt"/>
<line x1="427.30" y1="1591.72" x2="438.30" y2="1591.72" stroke="#f5841f" stroke-width="2.2" stroke-linecap="butt"/>
<rect x="427.80" y="1573.21" width="10.00" height="10.00" fill="none" stroke="#f5841f" stroke-width="1.6"/>
<rect x="463.30" y="1615.03" width="10.00" height="10.00" fill="none" stroke="#f5841f" stroke-width="1.6"/>
<rect x="498.30" y="1621.50" width="10.00" height="10.00" fill="none" stroke="#f5841f" stroke-width="1.6"/>
<rect x="533.90" y="1602.63" width="10.00" height="10.00" fill="none" stroke="#f5841f" stroke-width="1.6"/>
<line x1="574.20" y1="1612.62" x2="574.20" y2="1620.77" stroke="#f5841f" stroke-width="2" stroke-linecap="butt"/>
<line x1="568.70" y1="1620.77" x2="579.70" y2="1620.77" stroke="#f5841f" stroke-width="2.2" stroke-linecap="butt"/>
<rect x="569.20" y="1607.62" width="10.00" height="10.00" fill="none" stroke="#f5841f" stroke-width="1.6"/>
<line x1="609.60" y1="1602.45" x2="609.60" y2="1611.88" stroke="#f5841f" stroke-width="2" stroke-linecap="butt"/>
<line x1="604.10" y1="1611.88" x2="615.10" y2="1611.88" stroke="#f5841f" stroke-width="2.2" stroke-linecap="butt"/>
<rect x="604.60" y="1597.45" width="10.00" height="10.00" fill="none" stroke="#f5841f" stroke-width="1.6"/>
<line x1="644.90" y1="1580.25" x2="644.90" y2="1587.28" stroke="#f5841f" stroke-width="2" stroke-linecap="butt"/>
<line x1="639.40" y1="1587.28" x2="650.40" y2="1587.28" stroke="#f5841f" stroke-width="2.2" stroke-linecap="butt"/>
<rect x="639.90" y="1575.25" width="10.00" height="10.00" fill="none" stroke="#f5841f" stroke-width="1.6"/>
<polyline points="432.80,1577.85 468.30,1616.88 503.30,1619.47 538.90,1624.28 574.20,1612.99 609.60,1600.60 644.90,1590.61" fill="none" stroke="#0b0be6" stroke-width="2.1"/>
<line x1="432.80" y1="1577.85" x2="432.80" y2="1595.05" stroke="#0b0be6" stroke-width="2" stroke-linecap="butt"/>
<line x1="427.30" y1="1595.05" x2="438.30" y2="1595.05" stroke="#0b0be6" stroke-width="2.2" stroke-linecap="butt"/>
<circle cx="432.80" cy="1577.85" r="3.70" fill="#0b0be6"/>
<circle cx="468.30" cy="1616.88" r="3.70" fill="#0b0be6"/>
<circle cx="503.30" cy="1619.47" r="3.70" fill="#0b0be6"/>
<line x1="538.90" y1="1624.28" x2="538.90" y2="1632.05" stroke="#0b0be6" stroke-width="2" stroke-linecap="butt"/>
<line x1="533.40" y1="1632.05" x2="544.40" y2="1632.05" stroke="#0b0be6" stroke-width="2.2" stroke-linecap="butt"/>
<circle cx="538.90" cy="1624.28" r="3.70" fill="#0b0be6"/>
<line x1="574.20" y1="1612.99" x2="574.20" y2="1618.36" stroke="#0b0be6" stroke-width="2" stroke-linecap="butt"/>
<line x1="568.70" y1="1618.36" x2="579.70" y2="1618.36" stroke="#0b0be6" stroke-width="2.2" stroke-linecap="butt"/>
<circle cx="574.20" cy="1612.99" r="3.70" fill="#0b0be6"/>
<line x1="609.60" y1="1600.60" x2="609.60" y2="1609.66" stroke="#0b0be6" stroke-width="2" stroke-linecap="butt"/>
<line x1="604.10" y1="1609.66" x2="615.10" y2="1609.66" stroke="#0b0be6" stroke-width="2.2" stroke-linecap="butt"/>
<circle cx="609.60" cy="1600.60" r="3.70" fill="#0b0be6"/>
<line x1="644.90" y1="1590.61" x2="644.90" y2="1604.86" stroke="#0b0be6" stroke-width="2" stroke-linecap="butt"/>
<line x1="639.40" y1="1604.86" x2="650.40" y2="1604.86" stroke="#0b0be6" stroke-width="2.2" stroke-linecap="butt"/>
<circle cx="644.90" cy="1590.61" r="3.70" fill="#0b0be6"/>
<polyline points="432.80,1579.88 468.30,1622.24 503.30,1628.72 538.90,1612.81 574.20,1611.88 609.60,1600.60 644.90,1577.66" fill="none" stroke="#f5841f" stroke-width="2.1"/>
<rect x="429.10" y="1576.18" width="7.40" height="7.40" fill="#f5841f"/>
<rect x="464.60" y="1618.54" width="7.40" height="7.40" fill="#f5841f"/>
<rect x="499.60" y="1625.02" width="7.40" height="7.40" fill="#f5841f"/>
<rect x="535.20" y="1609.11" width="7.40" height="7.40" fill="#f5841f"/>
<rect x="570.50" y="1608.18" width="7.40" height="7.40" fill="#f5841f"/>
<rect x="605.90" y="1596.90" width="7.40" height="7.40" fill="#f5841f"/>
<rect x="641.20" y="1573.96" width="7.40" height="7.40" fill="#f5841f"/>
<line x1="435.60" y1="1694.10" x2="448.60" y2="1694.10" stroke="#0b0be6" stroke-width="2" stroke-linecap="butt"/>
<circle cx="442.10" cy="1694.10" r="5.06" fill="none" stroke="#0b0be6" stroke-width="1.6"/>
<line x1="433.70" y1="1711.20" x2="446.70" y2="1711.20" stroke="#f5841f" stroke-width="2" stroke-linecap="butt"/>
<rect x="434.70" y="1705.70" width="11.00" height="11.00" fill="none" stroke="#f5841f" stroke-width="1.6"/>
<line x1="439.50" y1="1730.00" x2="452.50" y2="1730.00" stroke="#0b0be6" stroke-width="2" stroke-linecap="butt"/>
<circle cx="446.00" cy="1730.00" r="3.70" fill="#0b0be6"/>
<line x1="437.40" y1="1746.70" x2="450.40" y2="1746.70" stroke="#f5841f" stroke-width="2" stroke-linecap="butt"/>
<rect x="440.20" y="1743.00" width="7.40" height="7.40" fill="#f5841f"/>
<text x="454.70" y="1698.90" font-size="14" >CON-VEH</text>
<text x="452.90" y="1714.50" font-size="14" >CON-VIT<tspan font-size="11.5" dy="3.5">D</tspan></text>
<text x="458.40" y="1734.40" font-size="14" >POL-VEH</text>
<text x="456.20" y="1749.30" font-size="14" >POL-VIT<tspan font-size="11.5" dy="3.5">D</tspan></text>
<line x1="523.60" y1="1690.90" x2="523.60" y2="1750.40" stroke="#000" stroke-width="2.2" stroke-linecap="butt"/>
<text x="530.20" y="1726.40" font-size="27" >n.s.</text>
<line x1="785.70" y1="1511.00" x2="785.70" y2="1776.10" stroke="#000" stroke-width="2.6" stroke-linecap="butt"/>
<line x1="784.40" y1="1774.90" x2="1046.40" y2="1774.90" stroke="#000" stroke-width="2.6" stroke-linecap="butt"/>
<line x1="780.20" y1="1512.00" x2="785.70" y2="1512.00" stroke="#000" stroke-width="2" stroke-linecap="butt"/>
<text x="779.00" y="1517.00" font-size="14.8" font-weight="bold" text-anchor="end" textLength="13.1" lengthAdjust="spacingAndGlyphs" >20</text>
<line x1="780.20" y1="1555.82" x2="785.70" y2="1555.82" stroke="#000" stroke-width="2" stroke-linecap="butt"/>
<text x="779.00" y="1560.82" font-size="14.8" font-weight="bold" text-anchor="end" textLength="6.55" lengthAdjust="spacingAndGlyphs" >0</text>
<line x1="780.20" y1="1599.63" x2="785.70" y2="1599.63" stroke="#000" stroke-width="2" stroke-linecap="butt"/>
<text x="779.00" y="1604.63" font-size="14.8" font-weight="bold" text-anchor="end" textLength="17.46" lengthAdjust="spacingAndGlyphs" >-20</text>
<line x1="780.20" y1="1643.45" x2="785.70" y2="1643.45" stroke="#000" stroke-width="2" stroke-linecap="butt"/>
<text x="779.00" y="1648.45" font-size="14.8" font-weight="bold" text-anchor="end" textLength="17.46" lengthAdjust="spacingAndGlyphs" >-40</text>
<line x1="780.20" y1="1687.27" x2="785.70" y2="1687.27" stroke="#000" stroke-width="2" stroke-linecap="butt"/>
<text x="779.00" y="1692.27" font-size="14.8" font-weight="bold" text-anchor="end" textLength="17.46" lengthAdjust="spacingAndGlyphs" >-60</text>
<line x1="780.20" y1="1731.08" x2="785.70" y2="1731.08" stroke="#000" stroke-width="2" stroke-linecap="butt"/>
<text x="779.00" y="1736.08" font-size="14.8" font-weight="bold" text-anchor="end" textLength="17.46" lengthAdjust="spacingAndGlyphs" >-80</text>
<line x1="780.20" y1="1774.90" x2="785.70" y2="1774.90" stroke="#000" stroke-width="2" stroke-linecap="butt"/>
<text x="779.00" y="1779.90" font-size="14.8" font-weight="bold" text-anchor="end" textLength="24.01" lengthAdjust="spacingAndGlyphs" >-100</text>
<line x1="809.20" y1="1774.90" x2="809.20" y2="1780.40" stroke="#000" stroke-width="2" stroke-linecap="butt"/>
<line x1="844.80" y1="1774.90" x2="844.80" y2="1780.40" stroke="#000" stroke-width="2" stroke-linecap="butt"/>
<line x1="880.40" y1="1774.90" x2="880.40" y2="1780.40" stroke="#000" stroke-width="2" stroke-linecap="butt"/>
<line x1="916.40" y1="1774.90" x2="916.40" y2="1780.40" stroke="#000" stroke-width="2" stroke-linecap="butt"/>
<line x1="951.80" y1="1774.90" x2="951.80" y2="1780.40" stroke="#000" stroke-width="2" stroke-linecap="butt"/>
<line x1="987.80" y1="1774.90" x2="987.80" y2="1780.40" stroke="#000" stroke-width="2" stroke-linecap="butt"/>
<line x1="1023.70" y1="1774.90" x2="1023.70" y2="1780.40" stroke="#000" stroke-width="2" stroke-linecap="butt"/>
<line x1="785.70" y1="1555.82" x2="1046.40" y2="1555.82" stroke="#000" stroke-width="2" stroke-dasharray="2.2 2"/>
<text x="800.50" y="1804.50" font-size="33" >A</text>
<text x="1009.80" y="1804.50" font-size="33" >P</text>
<line x1="869.90" y1="1795.40" x2="952.40" y2="1795.40" stroke="#000" stroke-width="5.4" stroke-linecap="butt"/>
<path d="M970.4,1795.4 L946.4,1786.2 L948.9,1795.4 L946.4,1804.6 Z" fill="#000"/>
<text x="728.40" y="1638.20" font-size="21.8" font-weight="bold" text-anchor="middle" transform="rotate(-90 728.40 1638.20)" textLength="199.8" lengthAdjust="spacingAndGlyphs" >Mean DV position (µm)</text>
<text x="752.20" y="1638.70" font-size="21.8" font-weight="bold" text-anchor="middle" transform="rotate(-90 752.20 1638.70)" textLength="119.4" lengthAdjust="spacingAndGlyphs" >relative to (y<tspan font-size="16" dy="4.5">0</tspan><tspan dy="-4.5">)</tspan></text>
<polyline points="809.20,1646.52 844.80,1605.11 880.40,1620.45 916.40,1634.03 951.80,1620.45 987.80,1639.73 1023.70,1673.46" fill="none" stroke="#0b0be6" stroke-width="2.1" stroke-dasharray="9 4.2"/>
<line x1="809.20" y1="1646.52" x2="809.20" y2="1662.29" stroke="#0b0be6" stroke-width="2" stroke-linecap="butt"/>
<line x1="803.70" y1="1662.29" x2="814.70" y2="1662.29" stroke="#0b0be6" stroke-width="2.2" stroke-linecap="butt"/>
<circle cx="809.20" cy="1646.52" r="4.60" fill="none" stroke="#0b0be6" stroke-width="1.6"/>
<line x1="844.80" y1="1605.11" x2="844.80" y2="1636.22" stroke="#0b0be6" stroke-width="2" stroke-linecap="butt"/>
<line x1="839.30" y1="1636.22" x2="850.30" y2="1636.22" stroke="#0b0be6" stroke-width="2.2" stroke-linecap="butt"/>
<circle cx="844.80" cy="1605.11" r="4.60" fill="none" stroke="#0b0be6" stroke-width="1.6"/>
<line x1="880.40" y1="1620.45" x2="880.40" y2="1643.45" stroke="#0b0be6" stroke-width="2" stroke-linecap="butt"/>
<line x1="874.90" y1="1643.45" x2="885.90" y2="1643.45" stroke="#0b0be6" stroke-width="2.2" stroke-linecap="butt"/>
<circle cx="880.40" cy="1620.45" r="4.60" fill="none" stroke="#0b0be6" stroke-width="1.6"/>
<line x1="916.40" y1="1634.03" x2="916.40" y2="1646.96" stroke="#0b0be6" stroke-width="2" stroke-linecap="butt"/>
<line x1="910.90" y1="1646.96" x2="921.90" y2="1646.96" stroke="#0b0be6" stroke-width="2.2" stroke-linecap="butt"/>
<circle cx="916.40" cy="1634.03" r="4.60" fill="none" stroke="#0b0be6" stroke-width="1.6"/>
<line x1="951.80" y1="1620.45" x2="951.80" y2="1634.47" stroke="#0b0be6" stroke-width="2" stroke-linecap="butt"/>
<line x1="946.30" y1="1634.47" x2="957.30" y2="1634.47" stroke="#0b0be6" stroke-width="2.2" stroke-linecap="butt"/>
<circle cx="951.80" cy="1620.45" r="4.60" fill="none" stroke="#0b0be6" stroke-width="1.6"/>
<line x1="987.80" y1="1639.73" x2="987.80" y2="1661.20" stroke="#0b0be6" stroke-width="2" stroke-linecap="butt"/>
<line x1="982.30" y1="1661.20" x2="993.30" y2="1661.20" stroke="#0b0be6" stroke-width="2.2" stroke-linecap="butt"/>
<circle cx="987.80" cy="1639.73" r="4.60" fill="none" stroke="#0b0be6" stroke-width="1.6"/>
<line x1="1023.70" y1="1673.46" x2="1023.70" y2="1695.81" stroke="#0b0be6" stroke-width="2" stroke-linecap="butt"/>
<line x1="1018.20" y1="1695.81" x2="1029.20" y2="1695.81" stroke="#0b0be6" stroke-width="2.2" stroke-linecap="butt"/>
<circle cx="1023.70" cy="1673.46" r="4.60" fill="none" stroke="#0b0be6" stroke-width="1.6"/>
<polyline points="809.20,1615.19 844.80,1602.26 880.40,1599.85 916.40,1603.36 951.80,1609.27 987.80,1607.96 1023.70,1639.29" fill="none" stroke="#f5841f" stroke-width="2.1" stroke-dasharray="9 4.2"/>
<line x1="809.20" y1="1582.33" x2="809.20" y2="1615.19" stroke="#f5841f" stroke-width="2" stroke-linecap="butt"/>
<line x1="803.70" y1="1582.33" x2="814.70" y2="1582.33" stroke="#f5841f" stroke-width="2.2" stroke-linecap="butt"/>
<rect x="804.20" y="1610.19" width="10.00" height="10.00" fill="none" stroke="#f5841f" stroke-width="1.6"/>
<line x1="844.80" y1="1581.45" x2="844.80" y2="1602.26" stroke="#f5841f" stroke-width="2" stroke-linecap="butt"/>
<line x1="839.30" y1="1581.45" x2="850.30" y2="1581.45" stroke="#f5841f" stroke-width="2.2" stroke-linecap="butt"/>
<rect x="839.80" y="1597.26" width="10.00" height="10.00" fill="none" stroke="#f5841f" stroke-width="1.6"/>
<line x1="880.40" y1="1582.11" x2="880.40" y2="1599.85" stroke="#f5841f" stroke-width="2" stroke-linecap="butt"/>
<line x1="874.90" y1="1582.11" x2="885.90" y2="1582.11" stroke="#f5841f" stroke-width="2.2" stroke-linecap="butt"/>
<rect x="875.40" y="1594.85" width="10.00" height="10.00" fill="none" stroke="#f5841f" stroke-width="1.6"/>
<line x1="916.40" y1="1584.95" x2="916.40" y2="1603.36" stroke="#f5841f" stroke-width="2" stroke-linecap="butt"/>
<line x1="910.90" y1="1584.95" x2="921.90" y2="1584.95" stroke="#f5841f" stroke-width="2.2" stroke-linecap="butt"/>
<rect x="911.40" y="1598.36" width="10.00" height="10.00" fill="none" stroke="#f5841f" stroke-width="1.6"/>
<line x1="951.80" y1="1593.94" x2="951.80" y2="1609.27" stroke="#f5841f" stroke-width="2" stroke-linecap="butt"/>
<line x1="946.30" y1="1593.94" x2="957.30" y2="1593.94" stroke="#f5841f" stroke-width="2.2" stroke-linecap="butt"/>
<rect x="946.80" y="1604.27" width="10.00" height="10.00" fill="none" stroke="#f5841f" stroke-width="1.6"/>
<line x1="987.80" y1="1586.27" x2="987.80" y2="1607.96" stroke="#f5841f" stroke-width="2" stroke-linecap="butt"/>
<line x1="982.30" y1="1586.27" x2="993.30" y2="1586.27" stroke="#f5841f" stroke-width="2.2" stroke-linecap="butt"/>
<rect x="982.80" y="1602.96" width="10.00" height="10.00" fill="none" stroke="#f5841f" stroke-width="1.6"/>
<line x1="1023.70" y1="1604.45" x2="1023.70" y2="1639.29" stroke="#f5841f" stroke-width="2" stroke-linecap="butt"/>
<line x1="1018.20" y1="1604.45" x2="1029.20" y2="1604.45" stroke="#f5841f" stroke-width="2.2" stroke-linecap="butt"/>
<rect x="1018.70" y="1634.29" width="10.00" height="10.00" fill="none" stroke="#f5841f" stroke-width="1.6"/>
<polyline points="809.20,1581.01 844.80,1566.11 880.40,1576.85 916.40,1575.32 951.80,1596.79 987.80,1625.70 1023.70,1619.13" fill="none" stroke="#0b0be6" stroke-width="2.1"/>
<line x1="809.20" y1="1552.31" x2="809.20" y2="1581.01" stroke="#0b0be6" stroke-width="2" stroke-linecap="butt"/>
<line x1="803.70" y1="1552.31" x2="814.70" y2="1552.31" stroke="#0b0be6" stroke-width="2.2" stroke-linecap="butt"/>
<circle cx="809.20" cy="1581.01" r="3.70" fill="#0b0be6"/>
<line x1="844.80" y1="1550.34" x2="844.80" y2="1566.11" stroke="#0b0be6" stroke-width="2" stroke-linecap="butt"/>
<line x1="839.30" y1="1550.34" x2="850.30" y2="1550.34" stroke="#0b0be6" stroke-width="2.2" stroke-linecap="butt"/>
<circle cx="844.80" cy="1566.11" r="3.70" fill="#0b0be6"/>
<line x1="880.40" y1="1563.92" x2="880.40" y2="1576.85" stroke="#0b0be6" stroke-width="2" stroke-linecap="butt"/>
<line x1="874.90" y1="1563.92" x2="885.90" y2="1563.92" stroke="#0b0be6" stroke-width="2.2" stroke-linecap="butt"/>
<circle cx="880.40" cy="1576.85" r="3.70" fill="#0b0be6"/>
<line x1="916.40" y1="1551.43" x2="916.40" y2="1575.32" stroke="#0b0be6" stroke-width="2" stroke-linecap="butt"/>
<line x1="910.90" y1="1551.43" x2="921.90" y2="1551.43" stroke="#0b0be6" stroke-width="2.2" stroke-linecap="butt"/>
<circle cx="916.40" cy="1575.32" r="3.70" fill="#0b0be6"/>
<line x1="951.80" y1="1584.95" x2="951.80" y2="1596.79" stroke="#0b0be6" stroke-width="2" stroke-linecap="butt"/>
<line x1="946.30" y1="1584.95" x2="957.30" y2="1584.95" stroke="#0b0be6" stroke-width="2.2" stroke-linecap="butt"/>
<circle cx="951.80" cy="1596.79" r="3.70" fill="#0b0be6"/>
<line x1="987.80" y1="1599.20" x2="987.80" y2="1625.70" stroke="#0b0be6" stroke-width="2" stroke-linecap="butt"/>
<line x1="982.30" y1="1599.20" x2="993.30" y2="1599.20" stroke="#0b0be6" stroke-width="2.2" stroke-linecap="butt"/>
<circle cx="987.80" cy="1625.70" r="3.70" fill="#0b0be6"/>
<line x1="1023.70" y1="1579.04" x2="1023.70" y2="1619.13" stroke="#0b0be6" stroke-width="2" stroke-linecap="butt"/>
<line x1="1018.20" y1="1579.04" x2="1029.20" y2="1579.04" stroke="#0b0be6" stroke-width="2.2" stroke-linecap="butt"/>
<circle cx="1023.70" cy="1619.13" r="3.70" fill="#0b0be6"/>
<polyline points="809.20,1603.36 844.80,1605.77 880.40,1612.78 916.40,1603.36 951.80,1620.45 987.80,1622.20 1023.70,1652.21" fill="none" stroke="#f5841f" stroke-width="2.1"/>
<line x1="809.20" y1="1578.60" x2="809.20" y2="1603.36" stroke="#f5841f" stroke-width="2" stroke-linecap="butt"/>
<line x1="803.70" y1="1578.60" x2="814.70" y2="1578.60" stroke="#f5841f" stroke-width="2.2" stroke-linecap="butt"/>
<rect x="805.50" y="1599.66" width="7.40" height="7.40" fill="#f5841f"/>
<line x1="844.80" y1="1594.59" x2="844.80" y2="1605.77" stroke="#f5841f" stroke-width="2" stroke-linecap="butt"/>
<line x1="839.30" y1="1594.59" x2="850.30" y2="1594.59" stroke="#f5841f" stroke-width="2.2" stroke-linecap="butt"/>
<rect x="841.10" y="1602.07" width="7.40" height="7.40" fill="#f5841f"/>
<rect x="876.70" y="1609.08" width="7.40" height="7.40" fill="#f5841f"/>
<line x1="916.40" y1="1591.53" x2="916.40" y2="1603.36" stroke="#f5841f" stroke-width="2" stroke-linecap="butt"/>
<line x1="910.90" y1="1591.53" x2="921.90" y2="1591.53" stroke="#f5841f" stroke-width="2.2" stroke-linecap="butt"/>
<rect x="912.70" y="1599.66" width="7.40" height="7.40" fill="#f5841f"/>
<rect x="948.10" y="1616.75" width="7.40" height="7.40" fill="#f5841f"/>
<rect x="984.10" y="1618.50" width="7.40" height="7.40" fill="#f5841f"/>
<rect x="1020.00" y="1648.51" width="7.40" height="7.40" fill="#f5841f"/>
<line x1="813.00" y1="1705.90" x2="826.00" y2="1705.90" stroke="#0b0be6" stroke-width="2" stroke-linecap="butt"/>
<circle cx="819.50" cy="1705.90" r="5.06" fill="none" stroke="#0b0be6" stroke-width="1.6"/>
<line x1="813.00" y1="1724.70" x2="826.00" y2="1724.70" stroke="#f5841f" stroke-width="2" stroke-linecap="butt"/>
<rect x="814.00" y="1719.20" width="11.00" height="11.00" fill="none" stroke="#f5841f" stroke-width="1.6"/>
<line x1="813.00" y1="1740.70" x2="826.00" y2="1740.70" stroke="#0b0be6" stroke-width="2" stroke-linecap="butt"/>
<circle cx="819.50" cy="1740.70" r="3.70" fill="#0b0be6"/>
<line x1="813.00" y1="1758.80" x2="826.00" y2="1758.80" stroke="#f5841f" stroke-width="2" stroke-linecap="butt"/>
<rect x="815.80" y="1755.10" width="7.40" height="7.40" fill="#f5841f"/>
<text x="832.30" y="1710.20" font-size="14" >CON-VEH</text>
<text x="832.30" y="1727.20" font-size="14" >CON-VIT<tspan font-size="11.5" dy="3.5">D</tspan></text>
<text x="832.30" y="1744.30" font-size="14" >POL-VEH</text>
<text x="832.30" y="1762.00" font-size="14" >POL-VIT<tspan font-size="11.5" dy="3.5">D</tspan></text>
<line x1="900.70" y1="1704.40" x2="900.70" y2="1760.30" stroke="#000" stroke-width="2.2" stroke-linecap="butt"/>
<text x="908.70" y="1745.00" font-size="33" >n.s.</text>
<line x1="408.80" y1="1990.60" x2="408.80" y2="2260.10" stroke="#000" stroke-width="2.6" stroke-linecap="butt"/>
<line x1="407.50" y1="2258.90" x2="674.80" y2="2258.90" stroke="#000" stroke-width="2.6" stroke-linecap="butt"/>
<line x1="403.30" y1="2258.90" x2="408.80" y2="2258.90" stroke="#000" stroke-width="2" stroke-linecap="butt"/>
<text x="402.10" y="2263.90" font-size="14.8" font-weight="bold" text-anchor="end" textLength="6.55" lengthAdjust="spacingAndGlyphs" >0</text>
<line x1="403.30" y1="2220.71" x2="408.80" y2="2220.71" stroke="#000" stroke-width="2" stroke-linecap="butt"/>
<text x="402.10" y="2225.71" font-size="14.8" font-weight="bold" text-anchor="end" textLength="13.1" lengthAdjust="spacingAndGlyphs" >20</text>
<line x1="403.30" y1="2182.53" x2="408.80" y2="2182.53" stroke="#000" stroke-width="2" stroke-linecap="butt"/>
<text x="402.10" y="2187.53" font-size="14.8" font-weight="bold" text-anchor="end" textLength="13.1" lengthAdjust="spacingAndGlyphs" >40</text>
<line x1="403.30" y1="2144.34" x2="408.80" y2="2144.34" stroke="#000" stroke-width="2" stroke-linecap="butt"/>
<text x="402.10" y="2149.34" font-size="14.8" font-weight="bold" text-anchor="end" textLength="13.1" lengthAdjust="spacingAndGlyphs" >60</text>
<line x1="403.30" y1="2106.16" x2="408.80" y2="2106.16" stroke="#000" stroke-width="2" stroke-linecap="butt"/>
<text x="402.10" y="2111.16" font-size="14.8" font-weight="bold" text-anchor="end" textLength="13.1" lengthAdjust="spacingAndGlyphs" >80</text>
<line x1="403.30" y1="2067.97" x2="408.80" y2="2067.97" stroke="#000" stroke-width="2" stroke-linecap="butt"/>
<text x="402.10" y="2072.97" font-size="14.8" font-weight="bold" text-anchor="end" textLength="19.65" lengthAdjust="spacingAndGlyphs" >100</text>
<line x1="403.30" y1="2029.79" x2="408.80" y2="2029.79" stroke="#000" stroke-width="2" stroke-linecap="butt"/>
<text x="402.10" y="2034.79" font-size="14.8" font-weight="bold" text-anchor="end" textLength="19.65" lengthAdjust="spacingAndGlyphs" >120</text>
<line x1="403.30" y1="1991.60" x2="408.80" y2="1991.60" stroke="#000" stroke-width="2" stroke-linecap="butt"/>
<text x="402.10" y="1996.60" font-size="14.8" font-weight="bold" text-anchor="end" textLength="19.65" lengthAdjust="spacingAndGlyphs" >140</text>
<line x1="433.00" y1="2258.90" x2="433.00" y2="2264.40" stroke="#000" stroke-width="2" stroke-linecap="butt"/>
<line x1="469.20" y1="2258.90" x2="469.20" y2="2264.40" stroke="#000" stroke-width="2" stroke-linecap="butt"/>
<line x1="506.10" y1="2258.90" x2="506.10" y2="2264.40" stroke="#000" stroke-width="2" stroke-linecap="butt"/>
<line x1="542.70" y1="2258.90" x2="542.70" y2="2264.40" stroke="#000" stroke-width="2" stroke-linecap="butt"/>
<line x1="578.90" y1="2258.90" x2="578.90" y2="2264.40" stroke="#000" stroke-width="2" stroke-linecap="butt"/>
<line x1="615.30" y1="2258.90" x2="615.30" y2="2264.40" stroke="#000" stroke-width="2" stroke-linecap="butt"/>
<line x1="651.80" y1="2258.90" x2="651.80" y2="2264.40" stroke="#000" stroke-width="2" stroke-linecap="butt"/>
<text x="420.60" y="2292.00" font-size="33" >A</text>
<text x="630.00" y="2292.00" font-size="33" >P</text>
<line x1="491.20" y1="2281.60" x2="574.10" y2="2281.60" stroke="#000" stroke-width="5.4" stroke-linecap="butt"/>
<path d="M592.1,2281.6 L568.1,2272.4 L570.6,2281.6 L568.1,2290.8 Z" fill="#000"/>
<text x="348.80" y="2118.70" font-size="21.8" font-weight="bold" text-anchor="middle" transform="rotate(-90 348.80 2118.70)" textLength="204.0" lengthAdjust="spacingAndGlyphs" >Mean ML position (µm)</text>
<text x="371.70" y="2119.80" font-size="21.8" font-weight="bold" text-anchor="middle" transform="rotate(-90 371.70 2119.80)" textLength="120.5" lengthAdjust="spacingAndGlyphs" >relative to (x<tspan font-size="16" dy="4.5">0</tspan><tspan dy="-4.5">)</tspan></text>
<polyline points="433.00,2097.76 469.20,2090.12 506.10,2074.08 542.70,2066.83 578.90,2069.88 615.30,2049.64 651.80,2026.73" fill="none" stroke="#0b0be6" stroke-width="2.1" stroke-dasharray="9 4.2"/>
<line x1="433.00" y1="2091.26" x2="433.00" y2="2097.76" stroke="#0b0be6" stroke-width="2" stroke-linecap="butt"/>
<line x1="427.50" y1="2091.26" x2="438.50" y2="2091.26" stroke="#0b0be6" stroke-width="2.2" stroke-linecap="butt"/>
<circle cx="433.00" cy="2097.76" r="4.60" fill="none" stroke="#0b0be6" stroke-width="1.6"/>
<line x1="469.20" y1="2084.96" x2="469.20" y2="2090.12" stroke="#0b0be6" stroke-width="2" stroke-linecap="butt"/>
<line x1="463.70" y1="2084.96" x2="474.70" y2="2084.96" stroke="#0b0be6" stroke-width="2.2" stroke-linecap="butt"/>
<circle cx="469.20" cy="2090.12" r="4.60" fill="none" stroke="#0b0be6" stroke-width="1.6"/>
<line x1="506.10" y1="2066.06" x2="506.10" y2="2074.08" stroke="#0b0be6" stroke-width="2" stroke-linecap="butt"/>
<line x1="500.60" y1="2066.06" x2="511.60" y2="2066.06" stroke="#0b0be6" stroke-width="2.2" stroke-linecap="butt"/>
<circle cx="506.10" cy="2074.08" r="4.60" fill="none" stroke="#0b0be6" stroke-width="1.6"/>
<line x1="542.70" y1="2059.38" x2="542.70" y2="2066.83" stroke="#0b0be6" stroke-width="2" stroke-linecap="butt"/>
<line x1="537.20" y1="2059.38" x2="548.20" y2="2059.38" stroke="#0b0be6" stroke-width="2.2" stroke-linecap="butt"/>
<circle cx="542.70" cy="2066.83" r="4.60" fill="none" stroke="#0b0be6" stroke-width="1.6"/>
<line x1="578.90" y1="2062.24" x2="578.90" y2="2069.88" stroke="#0b0be6" stroke-width="2" stroke-linecap="butt"/>
<line x1="573.40" y1="2062.24" x2="584.40" y2="2062.24" stroke="#0b0be6" stroke-width="2.2" stroke-linecap="butt"/>
<circle cx="578.90" cy="2069.88" r="4.60" fill="none" stroke="#0b0be6" stroke-width="1.6"/>
<line x1="615.30" y1="2040.86" x2="615.30" y2="2049.64" stroke="#0b0be6" stroke-width="2" stroke-linecap="butt"/>
<line x1="609.80" y1="2040.86" x2="620.80" y2="2040.86" stroke="#0b0be6" stroke-width="2.2" stroke-linecap="butt"/>
<circle cx="615.30" cy="2049.64" r="4.60" fill="none" stroke="#0b0be6" stroke-width="1.6"/>
<line x1="651.80" y1="2009.74" x2="651.80" y2="2026.73" stroke="#0b0be6" stroke-width="2" stroke-linecap="butt"/>
<line x1="646.30" y1="2009.74" x2="657.30" y2="2009.74" stroke="#0b0be6" stroke-width="2.2" stroke-linecap="butt"/>
<circle cx="651.80" cy="2026.73" r="4.60" fill="none" stroke="#0b0be6" stroke-width="1.6"/>
<polyline points="433.00,2066.63 469.20,2097.76 506.10,2100.43 542.70,2089.93 578.90,2081.34 615.30,2078.85 651.80,2050.79" fill="none" stroke="#f5841f" stroke-width="2.1" stroke-dasharray="9 4.2"/>
<line x1="433.00" y1="2047.16" x2="433.00" y2="2066.63" stroke="#f5841f" stroke-width="2" stroke-linecap="butt"/>
<line x1="427.50" y1="2047.16" x2="438.50" y2="2047.16" stroke="#f5841f" stroke-width="2.2" stroke-linecap="butt"/>
<rect x="428.00" y="2061.63" width="10.00" height="10.00" fill="none" stroke="#f5841f" stroke-width="1.6"/>
<rect x="464.20" y="2092.76" width="10.00" height="10.00" fill="none" stroke="#f5841f" stroke-width="1.6"/>
<rect x="501.10" y="2095.43" width="10.00" height="10.00" fill="none" stroke="#f5841f" stroke-width="1.6"/>
<rect x="537.70" y="2084.93" width="10.00" height="10.00" fill="none" stroke="#f5841f" stroke-width="1.6"/>
<rect x="573.90" y="2076.34" width="10.00" height="10.00" fill="none" stroke="#f5841f" stroke-width="1.6"/>
<line x1="615.30" y1="2073.70" x2="615.30" y2="2078.85" stroke="#f5841f" stroke-width="2" stroke-linecap="butt"/>
<line x1="609.80" y1="2073.70" x2="620.80" y2="2073.70" stroke="#f5841f" stroke-width="2.2" stroke-linecap="butt"/>
<rect x="610.30" y="2073.85" width="10.00" height="10.00" fill="none" stroke="#f5841f" stroke-width="1.6"/>
<line x1="651.80" y1="2046.97" x2="651.80" y2="2050.79" stroke="#f5841f" stroke-width="2" stroke-linecap="butt"/>
<line x1="646.30" y1="2046.97" x2="657.30" y2="2046.97" stroke="#f5841f" stroke-width="2.2" stroke-linecap="butt"/>
<rect x="646.80" y="2045.79" width="10.00" height="10.00" fill="none" stroke="#f5841f" stroke-width="1.6"/>
<polyline points="433.00,2067.78 469.20,2103.10 506.10,2102.53 542.70,2095.27 578.90,2095.27 615.30,2091.46 651.80,2063.58" fill="none" stroke="#0b0be6" stroke-width="2.1"/>
<line x1="433.00" y1="2067.78" x2="433.00" y2="2081.34" stroke="#0b0be6" stroke-width="2" stroke-linecap="butt"/>
<line x1="427.50" y1="2081.34" x2="438.50" y2="2081.34" stroke="#0b0be6" stroke-width="2.2" stroke-linecap="butt"/>
<circle cx="433.00" cy="2067.78" r="3.70" fill="#0b0be6"/>
<line x1="469.20" y1="2103.10" x2="469.20" y2="2108.45" stroke="#0b0be6" stroke-width="2" stroke-linecap="butt"/>
<line x1="463.70" y1="2108.45" x2="474.70" y2="2108.45" stroke="#0b0be6" stroke-width="2.2" stroke-linecap="butt"/>
<circle cx="469.20" cy="2103.10" r="3.70" fill="#0b0be6"/>
<line x1="506.10" y1="2102.53" x2="506.10" y2="2107.11" stroke="#0b0be6" stroke-width="2" stroke-linecap="butt"/>
<line x1="500.60" y1="2107.11" x2="511.60" y2="2107.11" stroke="#0b0be6" stroke-width="2.2" stroke-linecap="butt"/>
<circle cx="506.10" cy="2102.53" r="3.70" fill="#0b0be6"/>
<circle cx="542.70" cy="2095.27" r="3.70" fill="#0b0be6"/>
<line x1="578.90" y1="2095.27" x2="578.90" y2="2097.18" stroke="#0b0be6" stroke-width="2" stroke-linecap="butt"/>
<line x1="573.40" y1="2097.18" x2="584.40" y2="2097.18" stroke="#0b0be6" stroke-width="2.2" stroke-linecap="butt"/>
<circle cx="578.90" cy="2095.27" r="3.70" fill="#0b0be6"/>
<line x1="615.30" y1="2091.46" x2="615.30" y2="2094.70" stroke="#0b0be6" stroke-width="2" stroke-linecap="butt"/>
<line x1="609.80" y1="2094.70" x2="620.80" y2="2094.70" stroke="#0b0be6" stroke-width="2.2" stroke-linecap="butt"/>
<circle cx="615.30" cy="2091.46" r="3.70" fill="#0b0be6"/>
<line x1="651.80" y1="2063.58" x2="651.80" y2="2071.22" stroke="#0b0be6" stroke-width="2" stroke-linecap="butt"/>
<line x1="646.30" y1="2071.22" x2="657.30" y2="2071.22" stroke="#0b0be6" stroke-width="2.2" stroke-linecap="butt"/>
<circle cx="651.80" cy="2063.58" r="3.70" fill="#0b0be6"/>
<polyline points="433.00,2084.20 469.20,2102.53 506.10,2099.67 542.70,2087.45 578.90,2087.64 615.30,2080.00 651.80,2058.43" fill="none" stroke="#f5841f" stroke-width="2.1"/>
<line x1="433.00" y1="2078.28" x2="433.00" y2="2084.20" stroke="#f5841f" stroke-width="2" stroke-linecap="butt"/>
<line x1="427.50" y1="2078.28" x2="438.50" y2="2078.28" stroke="#f5841f" stroke-width="2.2" stroke-linecap="butt"/>
<rect x="429.30" y="2080.50" width="7.40" height="7.40" fill="#f5841f"/>
<rect x="465.50" y="2098.83" width="7.40" height="7.40" fill="#f5841f"/>
<rect x="502.40" y="2095.97" width="7.40" height="7.40" fill="#f5841f"/>
<rect x="539.00" y="2083.75" width="7.40" height="7.40" fill="#f5841f"/>
<rect x="575.20" y="2083.94" width="7.40" height="7.40" fill="#f5841f"/>
<rect x="611.60" y="2076.30" width="7.40" height="7.40" fill="#f5841f"/>
<rect x="648.10" y="2054.73" width="7.40" height="7.40" fill="#f5841f"/>
<line x1="489.40" y1="2175.00" x2="502.40" y2="2175.00" stroke="#0b0be6" stroke-width="2" stroke-linecap="butt"/>
<circle cx="495.90" cy="2175.00" r="5.06" fill="none" stroke="#0b0be6" stroke-width="1.6"/>
<line x1="489.40" y1="2193.60" x2="502.40" y2="2193.60" stroke="#f5841f" stroke-width="2" stroke-linecap="butt"/>
<rect x="490.40" y="2188.10" width="11.00" height="11.00" fill="none" stroke="#f5841f" stroke-width="1.6"/>
<line x1="489.40" y1="2209.50" x2="502.40" y2="2209.50" stroke="#0b0be6" stroke-width="2" stroke-linecap="butt"/>
<circle cx="495.90" cy="2209.50" r="3.70" fill="#0b0be6"/>
<line x1="489.40" y1="2228.50" x2="502.40" y2="2228.50" stroke="#f5841f" stroke-width="2" stroke-linecap="butt"/>
<rect x="492.20" y="2224.80" width="7.40" height="7.40" fill="#f5841f"/>
<text x="508.90" y="2179.00" font-size="14" >CON-VEH</text>
<text x="508.90" y="2197.40" font-size="14" >CON-VIT<tspan font-size="11.5" dy="3.5">D</tspan></text>
<text x="508.90" y="2213.90" font-size="14" >POL-VEH</text>
<text x="508.90" y="2231.70" font-size="14" >POL-VIT<tspan font-size="11.5" dy="3.5">D</tspan></text>
<polyline points="486.1,2168.2 486.1,2197.4" fill="none" stroke="#000" stroke-width="2.4"/>
<polyline points="486.1,2206.3 486.1,2235.5" fill="none" stroke="#000" stroke-width="2.4"/>
<polyline points="486.1,2182.6 477.3,2182.6 477.3,2221.6 486.1,2221.6" fill="none" stroke="#000" stroke-width="2.4"/>
<line x1="788.40" y1="1996.00" x2="788.40" y2="2256.70" stroke="#000" stroke-width="2.6" stroke-linecap="butt"/>
<line x1="787.10" y1="2255.50" x2="1047.00" y2="2255.50" stroke="#000" stroke-width="2.6" stroke-linecap="butt"/>
<line x1="782.90" y1="1997.00" x2="788.40" y2="1997.00" stroke="#000" stroke-width="2" stroke-linecap="butt"/>
<text x="781.70" y="2002.00" font-size="14.8" font-weight="bold" text-anchor="end" textLength="13.1" lengthAdjust="spacingAndGlyphs" >20</text>
<line x1="782.90" y1="2040.08" x2="788.40" y2="2040.08" stroke="#000" stroke-width="2" stroke-linecap="butt"/>
<text x="781.70" y="2045.08" font-size="14.8" font-weight="bold" text-anchor="end" textLength="6.55" lengthAdjust="spacingAndGlyphs" >0</text>
<line x1="782.90" y1="2083.17" x2="788.40" y2="2083.17" stroke="#000" stroke-width="2" stroke-linecap="butt"/>
<text x="781.70" y="2088.17" font-size="14.8" font-weight="bold" text-anchor="end" textLength="17.46" lengthAdjust="spacingAndGlyphs" >-20</text>
<line x1="782.90" y1="2126.25" x2="788.40" y2="2126.25" stroke="#000" stroke-width="2" stroke-linecap="butt"/>
<text x="781.70" y="2131.25" font-size="14.8" font-weight="bold" text-anchor="end" textLength="17.46" lengthAdjust="spacingAndGlyphs" >-40</text>
<line x1="782.90" y1="2169.33" x2="788.40" y2="2169.33" stroke="#000" stroke-width="2" stroke-linecap="butt"/>
<text x="781.70" y="2174.33" font-size="14.8" font-weight="bold" text-anchor="end" textLength="17.46" lengthAdjust="spacingAndGlyphs" >-60</text>
<line x1="782.90" y1="2212.42" x2="788.40" y2="2212.42" stroke="#000" stroke-width="2" stroke-linecap="butt"/>
<text x="781.70" y="2217.42" font-size="14.8" font-weight="bold" text-anchor="end" textLength="17.46" lengthAdjust="spacingAndGlyphs" >-80</text>
<line x1="782.90" y1="2255.50" x2="788.40" y2="2255.50" stroke="#000" stroke-width="2" stroke-linecap="butt"/>
<text x="781.70" y="2260.50" font-size="14.8" font-weight="bold" text-anchor="end" textLength="24.01" lengthAdjust="spacingAndGlyphs" >-100</text>
<line x1="812.10" y1="2255.50" x2="812.10" y2="2261.00" stroke="#000" stroke-width="2" stroke-linecap="butt"/>
<line x1="847.20" y1="2255.50" x2="847.20" y2="2261.00" stroke="#000" stroke-width="2" stroke-linecap="butt"/>
<line x1="882.50" y1="2255.50" x2="882.50" y2="2261.00" stroke="#000" stroke-width="2" stroke-linecap="butt"/>
<line x1="918.40" y1="2255.50" x2="918.40" y2="2261.00" stroke="#000" stroke-width="2" stroke-linecap="butt"/>
<line x1="953.30" y1="2255.50" x2="953.30" y2="2261.00" stroke="#000" stroke-width="2" stroke-linecap="butt"/>
<line x1="988.80" y1="2255.50" x2="988.80" y2="2261.00" stroke="#000" stroke-width="2" stroke-linecap="butt"/>
<line x1="1024.40" y1="2255.50" x2="1024.40" y2="2261.00" stroke="#000" stroke-width="2" stroke-linecap="butt"/>
<line x1="788.40" y1="2040.08" x2="1047.00" y2="2040.08" stroke="#000" stroke-width="2" stroke-dasharray="2.2 2"/>
<text x="802.30" y="2289.00" font-size="33" >A</text>
<text x="1012.40" y="2289.00" font-size="33" >P</text>
<line x1="871.70" y1="2279.90" x2="954.20" y2="2279.90" stroke="#000" stroke-width="5.4" stroke-linecap="butt"/>
<path d="M972.2,2279.9 L948.2,2270.7 L950.7,2279.9 L948.2,2289.1 Z" fill="#000"/>
<text x="728.20" y="2124.00" font-size="21.8" font-weight="bold" text-anchor="middle" transform="rotate(-90 728.20 2124.00)" textLength="201.9" lengthAdjust="spacingAndGlyphs" >Mean DV position (µm)</text>
<text x="751.70" y="2123.70" font-size="21.8" font-weight="bold" text-anchor="middle" transform="rotate(-90 751.70 2123.70)" textLength="121.0" lengthAdjust="spacingAndGlyphs" >relative to (y<tspan font-size="16" dy="4.5">0</tspan><tspan dy="-4.5">)</tspan></text>
<polyline points="812.10,2160.50 847.20,2109.66 882.50,2113.97 918.40,2122.37 953.30,2118.49 988.80,2125.60 1024.40,2164.81" fill="none" stroke="#0b0be6" stroke-width="2.1" stroke-dasharray="9 4.2"/>
<line x1="812.10" y1="2160.50" x2="812.10" y2="2174.93" stroke="#0b0be6" stroke-width="2" stroke-linecap="butt"/>
<line x1="806.60" y1="2174.93" x2="817.60" y2="2174.93" stroke="#0b0be6" stroke-width="2.2" stroke-linecap="butt"/>
<circle cx="812.10" cy="2160.50" r="4.60" fill="none" stroke="#0b0be6" stroke-width="1.6"/>
<line x1="847.20" y1="2109.66" x2="847.20" y2="2141.98" stroke="#0b0be6" stroke-width="2" stroke-linecap="butt"/>
<line x1="841.70" y1="2141.98" x2="852.70" y2="2141.98" stroke="#0b0be6" stroke-width="2.2" stroke-linecap="butt"/>
<circle cx="847.20" cy="2109.66" r="4.60" fill="none" stroke="#0b0be6" stroke-width="1.6"/>
<line x1="882.50" y1="2113.97" x2="882.50" y2="2143.27" stroke="#0b0be6" stroke-width="2" stroke-linecap="butt"/>
<line x1="877.00" y1="2143.27" x2="888.00" y2="2143.27" stroke="#0b0be6" stroke-width="2.2" stroke-linecap="butt"/>
<circle cx="882.50" cy="2113.97" r="4.60" fill="none" stroke="#0b0be6" stroke-width="1.6"/>
<line x1="918.40" y1="2122.37" x2="918.40" y2="2138.31" stroke="#0b0be6" stroke-width="2" stroke-linecap="butt"/>
<line x1="912.90" y1="2138.31" x2="923.90" y2="2138.31" stroke="#0b0be6" stroke-width="2.2" stroke-linecap="butt"/>
<circle cx="918.40" cy="2122.37" r="4.60" fill="none" stroke="#0b0be6" stroke-width="1.6"/>
<line x1="953.30" y1="2118.49" x2="953.30" y2="2131.20" stroke="#0b0be6" stroke-width="2" stroke-linecap="butt"/>
<line x1="947.80" y1="2131.20" x2="958.80" y2="2131.20" stroke="#0b0be6" stroke-width="2.2" stroke-linecap="butt"/>
<circle cx="953.30" cy="2118.49" r="4.60" fill="none" stroke="#0b0be6" stroke-width="1.6"/>
<line x1="988.80" y1="2125.60" x2="988.80" y2="2146.50" stroke="#0b0be6" stroke-width="2" stroke-linecap="butt"/>
<line x1="983.30" y1="2146.50" x2="994.30" y2="2146.50" stroke="#0b0be6" stroke-width="2.2" stroke-linecap="butt"/>
<circle cx="988.80" cy="2125.60" r="4.60" fill="none" stroke="#0b0be6" stroke-width="1.6"/>
<line x1="1024.40" y1="2164.81" x2="1024.40" y2="2193.68" stroke="#0b0be6" stroke-width="2" stroke-linecap="butt"/>
<line x1="1018.90" y1="2193.68" x2="1029.90" y2="2193.68" stroke="#0b0be6" stroke-width="2.2" stroke-linecap="butt"/>
<circle cx="1024.40" cy="2164.81" r="4.60" fill="none" stroke="#0b0be6" stroke-width="1.6"/>
<polyline points="812.10,2108.37 847.20,2108.37 882.50,2102.55 918.40,2107.29 953.30,2106.43 988.80,2111.60 1024.40,2127.54" fill="none" stroke="#f5841f" stroke-width="2.1" stroke-dasharray="9 4.2"/>
<line x1="812.10" y1="2080.37" x2="812.10" y2="2108.37" stroke="#f5841f" stroke-width="2" stroke-linecap="butt"/>
<line x1="806.60" y1="2080.37" x2="817.60" y2="2080.37" stroke="#f5841f" stroke-width="2.2" stroke-linecap="butt"/>
<rect x="807.10" y="2103.37" width="10.00" height="10.00" fill="none" stroke="#f5841f" stroke-width="1.6"/>
<line x1="847.20" y1="2086.18" x2="847.20" y2="2108.37" stroke="#f5841f" stroke-width="2" stroke-linecap="butt"/>
<line x1="841.70" y1="2086.18" x2="852.70" y2="2086.18" stroke="#f5841f" stroke-width="2.2" stroke-linecap="butt"/>
<rect x="842.20" y="2103.37" width="10.00" height="10.00" fill="none" stroke="#f5841f" stroke-width="1.6"/>
<line x1="882.50" y1="2081.66" x2="882.50" y2="2102.55" stroke="#f5841f" stroke-width="2" stroke-linecap="butt"/>
<line x1="877.00" y1="2081.66" x2="888.00" y2="2081.66" stroke="#f5841f" stroke-width="2.2" stroke-linecap="butt"/>
<rect x="877.50" y="2097.55" width="10.00" height="10.00" fill="none" stroke="#f5841f" stroke-width="1.6"/>
<line x1="918.40" y1="2085.54" x2="918.40" y2="2107.29" stroke="#f5841f" stroke-width="2" stroke-linecap="butt"/>
<line x1="912.90" y1="2085.54" x2="923.90" y2="2085.54" stroke="#f5841f" stroke-width="2.2" stroke-linecap="butt"/>
<rect x="913.40" y="2102.29" width="10.00" height="10.00" fill="none" stroke="#f5841f" stroke-width="1.6"/>
<line x1="953.30" y1="2088.77" x2="953.30" y2="2106.43" stroke="#f5841f" stroke-width="2" stroke-linecap="butt"/>
<line x1="947.80" y1="2088.77" x2="958.80" y2="2088.77" stroke="#f5841f" stroke-width="2.2" stroke-linecap="butt"/>
<rect x="948.30" y="2101.43" width="10.00" height="10.00" fill="none" stroke="#f5841f" stroke-width="1.6"/>
<line x1="988.80" y1="2091.35" x2="988.80" y2="2111.60" stroke="#f5841f" stroke-width="2" stroke-linecap="butt"/>
<line x1="983.30" y1="2091.35" x2="994.30" y2="2091.35" stroke="#f5841f" stroke-width="2.2" stroke-linecap="butt"/>
<rect x="983.80" y="2106.60" width="10.00" height="10.00" fill="none" stroke="#f5841f" stroke-width="1.6"/>
<line x1="1024.40" y1="2090.06" x2="1024.40" y2="2127.54" stroke="#f5841f" stroke-width="2" stroke-linecap="butt"/>
<line x1="1018.90" y1="2090.06" x2="1029.90" y2="2090.06" stroke="#f5841f" stroke-width="2.2" stroke-linecap="butt"/>
<rect x="1019.40" y="2122.54" width="10.00" height="10.00" fill="none" stroke="#f5841f" stroke-width="1.6"/>
<polyline points="812.10,2077.78 847.20,2072.18 882.50,2070.24 918.40,2051.50 953.30,2079.94 988.80,2102.77 1024.40,2102.12" fill="none" stroke="#0b0be6" stroke-width="2.1"/>
<line x1="812.10" y1="2043.53" x2="812.10" y2="2077.78" stroke="#0b0be6" stroke-width="2" stroke-linecap="butt"/>
<line x1="806.60" y1="2043.53" x2="817.60" y2="2043.53" stroke="#0b0be6" stroke-width="2.2" stroke-linecap="butt"/>
<circle cx="812.10" cy="2077.78" r="3.70" fill="#0b0be6"/>
<line x1="847.20" y1="2056.24" x2="847.20" y2="2072.18" stroke="#0b0be6" stroke-width="2" stroke-linecap="butt"/>
<line x1="841.70" y1="2056.24" x2="852.70" y2="2056.24" stroke="#0b0be6" stroke-width="2.2" stroke-linecap="butt"/>
<circle cx="847.20" cy="2072.18" r="3.70" fill="#0b0be6"/>
<line x1="882.50" y1="2058.82" x2="882.50" y2="2070.24" stroke="#0b0be6" stroke-width="2" stroke-linecap="butt"/>
<line x1="877.00" y1="2058.82" x2="888.00" y2="2058.82" stroke="#0b0be6" stroke-width="2.2" stroke-linecap="butt"/>
<circle cx="882.50" cy="2070.24" r="3.70" fill="#0b0be6"/>
<line x1="918.40" y1="2028.45" x2="918.40" y2="2051.50" stroke="#0b0be6" stroke-width="2" stroke-linecap="butt"/>
<line x1="912.90" y1="2028.45" x2="923.90" y2="2028.45" stroke="#0b0be6" stroke-width="2.2" stroke-linecap="butt"/>
<circle cx="918.40" cy="2051.50" r="3.70" fill="#0b0be6"/>
<line x1="953.30" y1="2067.23" x2="953.30" y2="2079.94" stroke="#0b0be6" stroke-width="2" stroke-linecap="butt"/>
<line x1="947.80" y1="2067.23" x2="958.80" y2="2067.23" stroke="#0b0be6" stroke-width="2.2" stroke-linecap="butt"/>
<circle cx="953.30" cy="2079.94" r="3.70" fill="#0b0be6"/>
<line x1="988.80" y1="2080.58" x2="988.80" y2="2102.77" stroke="#0b0be6" stroke-width="2" stroke-linecap="butt"/>
<line x1="983.30" y1="2080.58" x2="994.30" y2="2080.58" stroke="#0b0be6" stroke-width="2.2" stroke-linecap="butt"/>
<circle cx="988.80" cy="2102.77" r="3.70" fill="#0b0be6"/>
<line x1="1024.40" y1="2065.29" x2="1024.40" y2="2102.12" stroke="#0b0be6" stroke-width="2" stroke-linecap="butt"/>
<line x1="1018.90" y1="2065.29" x2="1029.90" y2="2065.29" stroke="#0b0be6" stroke-width="2.2" stroke-linecap="butt"/>
<circle cx="1024.40" cy="2102.12" r="3.70" fill="#0b0be6"/>
<polyline points="812.10,2112.03 847.20,2105.79 882.50,2104.49 918.40,2099.54 953.30,2109.02 988.80,2123.02 1024.40,2142.62" fill="none" stroke="#f5841f" stroke-width="2.1"/>
<line x1="812.10" y1="2090.49" x2="812.10" y2="2112.03" stroke="#f5841f" stroke-width="2" stroke-linecap="butt"/>
<line x1="806.60" y1="2090.49" x2="817.60" y2="2090.49" stroke="#f5841f" stroke-width="2.2" stroke-linecap="butt"/>
<rect x="808.40" y="2108.33" width="7.40" height="7.40" fill="#f5841f"/>
<line x1="847.20" y1="2091.14" x2="847.20" y2="2105.79" stroke="#f5841f" stroke-width="2" stroke-linecap="butt"/>
<line x1="841.70" y1="2091.14" x2="852.70" y2="2091.14" stroke="#f5841f" stroke-width="2.2" stroke-linecap="butt"/>
<rect x="843.50" y="2102.09" width="7.40" height="7.40" fill="#f5841f"/>
<line x1="882.50" y1="2089.84" x2="882.50" y2="2104.49" stroke="#f5841f" stroke-width="2" stroke-linecap="butt"/>
<line x1="877.00" y1="2089.84" x2="888.00" y2="2089.84" stroke="#f5841f" stroke-width="2.2" stroke-linecap="butt"/>
<rect x="878.80" y="2100.79" width="7.40" height="7.40" fill="#f5841f"/>
<line x1="918.40" y1="2085.54" x2="918.40" y2="2099.54" stroke="#f5841f" stroke-width="2" stroke-linecap="butt"/>
<line x1="912.90" y1="2085.54" x2="923.90" y2="2085.54" stroke="#f5841f" stroke-width="2.2" stroke-linecap="butt"/>
<rect x="914.70" y="2095.84" width="7.40" height="7.40" fill="#f5841f"/>
<line x1="953.30" y1="2094.58" x2="953.30" y2="2109.02" stroke="#f5841f" stroke-width="2" stroke-linecap="butt"/>
<line x1="947.80" y1="2094.58" x2="958.80" y2="2094.58" stroke="#f5841f" stroke-width="2.2" stroke-linecap="butt"/>
<rect x="949.60" y="2105.32" width="7.40" height="7.40" fill="#f5841f"/>
<rect x="985.10" y="2119.32" width="7.40" height="7.40" fill="#f5841f"/>
<rect x="1020.70" y="2138.92" width="7.40" height="7.40" fill="#f5841f"/>
<line x1="848.70" y1="2165.70" x2="861.70" y2="2165.70" stroke="#0b0be6" stroke-width="2" stroke-linecap="butt"/>
<circle cx="855.20" cy="2165.70" r="5.06" fill="none" stroke="#0b0be6" stroke-width="1.6"/>
<line x1="848.70" y1="2188.40" x2="861.70" y2="2188.40" stroke="#f5841f" stroke-width="2" stroke-linecap="butt"/>
<rect x="849.70" y="2182.90" width="11.00" height="11.00" fill="none" stroke="#f5841f" stroke-width="1.6"/>
<line x1="848.70" y1="2208.00" x2="861.70" y2="2208.00" stroke="#0b0be6" stroke-width="2" stroke-linecap="butt"/>
<circle cx="855.20" cy="2208.00" r="3.70" fill="#0b0be6"/>
<line x1="848.70" y1="2230.50" x2="861.70" y2="2230.50" stroke="#f5841f" stroke-width="2" stroke-linecap="butt"/>
<rect x="851.50" y="2226.80" width="7.40" height="7.40" fill="#f5841f"/>
<text x="867.90" y="2169.60" font-size="14" >CON-VEH</text>
<text x="867.90" y="2191.30" font-size="14" >CON-VIT<tspan font-size="11.5" dy="3.5">D</tspan></text>
<text x="867.90" y="2212.40" font-size="14" >POL-VEH</text>
<text x="867.90" y="2234.10" font-size="14" >POL-VIT<tspan font-size="11.5" dy="3.5">D</tspan></text>
<polyline points="932.8,2164.5 939.4,2164.5 939.4,2205.8 932.8,2205.8" fill="none" stroke="#000" stroke-width="2.4"/>
<polyline points="932.8,2210.2 939.4,2210.2 939.4,2229.1 932.8,2229.1" fill="none" stroke="#000" stroke-width="2.4"/>
<text x="925.20" y="1198.40" font-size="35" font-weight="bold" >*</text>
<text x="458.70" y="2217.30" font-size="33" font-weight="bold" >*</text>
<text x="940.90" y="2201.40" font-size="34" font-weight="bold" >*</text>
<text x="940.90" y="2233.30" font-size="34" font-weight="bold" >*</text>
<defs>
<filter id="blur6" x="-20%" y="-20%" width="140%" height="140%"><feGaussianBlur stdDeviation="6"/></filter>
<filter id="blur4" x="-20%" y="-20%" width="140%" height="140%"><feGaussianBlur stdDeviation="4"/></filter>
<filter id="blur2" x="-20%" y="-20%" width="140%" height="140%"><feGaussianBlur stdDeviation="2"/></filter>
<filter id="blur1" x="-20%" y="-20%" width="140%" height="140%"><feGaussianBlur stdDeviation="1"/></filter>
<pattern id="cellpat" width="8" height="10" patternUnits="userSpaceOnUse" patternTransform="rotate(-40)">
<rect width="8" height="10" fill="#4a4a4a"/>
<ellipse cx="4" cy="2.5" rx="3.4" ry="2.3" fill="#fff"/>
<ellipse cx="0" cy="7.5" rx="3.4" ry="2.3" fill="#fff"/>
<ellipse cx="8" cy="7.5" rx="3.4" ry="2.3" fill="#fff"/>
</pattern>
<pattern id="cellpat2" width="8" height="10" patternUnits="userSpaceOnUse" patternTransform="rotate(40)">
<rect width="8" height="10" fill="#4a4a4a"/>
<ellipse cx="4" cy="2.5" rx="3.4" ry="2.3" fill="#fff"/>
<ellipse cx="0" cy="7.5" rx="3.4" ry="2.3" fill="#fff"/>
<ellipse cx="8" cy="7.5" rx="3.4" ry="2.3" fill="#fff"/>
</pattern>
<mask id="cellmaskC" maskUnits="userSpaceOnUse" x="0" y="585" width="260" height="260">
<rect x="0" y="585" width="130" height="260" fill="url(#cellpat)"/>
<rect x="130" y="585" width="130" height="260" fill="url(#cellpat2)"/>
</mask>
<pattern id="cellpatH" width="5" height="6" patternUnits="userSpaceOnUse" patternTransform="rotate(-30)">
<rect width="5" height="6" fill="#8a8a8a"/>
<ellipse cx="2.5" cy="1.5" rx="2" ry="1.2" fill="#fff"/>
<ellipse cx="0" cy="4.5" rx="2" ry="1.2" fill="#fff"/>
<ellipse cx="5" cy="4.5" rx="2" ry="1.2" fill="#fff"/>
</pattern>
<mask id="cellmaskH" maskUnits="userSpaceOnUse" x="0" y="1500" width="260" height="255">
<rect x="0" y="1500" width="260" height="255" fill="url(#cellpatH)"/>
</mask>
<clipPath id="clipC"><rect x="6.5" y="591" width="247" height="246.5"/></clipPath>
<clipPath id="clipH"><rect x="6.5" y="1506" width="243.5" height="243"/></clipPath>
</defs>
<g clip-path="url(#clipC)">
<rect x="6.5" y="591" width="247" height="246.5" fill="#040206"/>
<g mask="url(#cellmaskC)">
<rect x="0" y="585" width="260" height="200" fill="#2a30a4"/>
<path d="M0,585 L55.4,585 L108.4,702.9 L54.2,698.2 L23.6,655.7 L0,644 Z" fill="#9a40a8" filter="url(#blur4)"/>
<path d="M235.7,585 L260,585 L260,620.4 L212.2,655.7 L193.3,691.1 L153.2,698.2 L141.4,702.9 Z" fill="#9a40a8" filter="url(#blur4)"/>
<path d="M54.2,695.8 L110.8,698.2 L126.1,732.3 L141.4,698.2 L200.4,695.8 L200.4,738.2 L169.7,773.6 L124.9,790.1 L77.8,773.6 L54.2,738.2 Z" fill="#c496a6" filter="url(#blur4)"/>
<path d="M0,738.2 L54.2,735.9 L77.8,771.2 L124.9,787.7 L169.7,771.2 L200.4,735.9 L260,731.2 L260,750 L212.2,780.7 L176.8,797.2 L129.7,804.2 L94.3,801.9 L47.1,785.4 L0,768.9 Z" fill="#28a868" filter="url(#blur2)"/>
<path d="M0,770 L47.1,786.4 L94.3,802.9 L129.7,805.2 L176.8,798.2 L212.2,781.7 L260,751 L260,845 L0,845 Z" fill="#080a28" filter="url(#blur2)"/>
</g>
<path d="M50.7,586 L56.6,627.4 L77.8,653.4 L94.3,679.3 L108.4,702.9 L122.6,726.4 L126.1,732.3 L129.7,728.8 L141.4,702.9 L153.2,679.3 L165,655.7 L179.2,639.2 L207.4,615.6 L237,586 Z" fill="#030104" filter="url(#blur1)"/>
</g>
<text x="17.50" y="618.00" font-size="29.5" font-weight="bold" textLength="231" lengthAdjust="spacingAndGlyphs" ><tspan fill="#1010f0">DAPI</tspan><tspan fill="#fff">/</tspan><tspan fill="#f01cf0">Sox2</tspan><tspan fill="#fff">/</tspan><tspan fill="#10e020">Lmx1a</tspan></text>
<text x="117.20" y="754.20" font-size="36" fill="#ffffff" >*</text>
<text x="136.30" y="753.50" font-size="20" fill="#ffffff" textLength="52" lengthAdjust="spacingAndGlyphs" >(<tspan font-style="italic">x</tspan><tspan font-size="13" dy="5">0</tspan><tspan dy="-5">,</tspan><tspan font-style="italic">y</tspan><tspan font-size="13" dy="5">0</tspan><tspan dy="-5">)</tspan></text>
<polyline points="124.5,746 128.5,746 128.5,789.6 124.5,789.6" fill="none" stroke="#fff" stroke-width="1.6"/>
<polyline points="75,787.5 75,792 117.9,792 117.9,787.5" fill="none" stroke="#fff" stroke-width="1.6"/>
<text x="27.00" y="799.00" font-size="21" fill="#ffffff" >(<tspan font-style="italic">x</tspan>,<tspan font-style="italic">y</tspan>)</text>
<text x="90.50" y="804.00" font-size="19" font-weight="bold" font-style="italic" fill="#ffffff" >x</text>
<text x="135.50" y="794.00" font-size="21" font-weight="bold" font-style="italic" fill="#ffffff" >y</text>
<rect x="200.4" y="821.2" width="36.6" height="2.8" fill="#fff"/>
<g clip-path="url(#clipH)">
<rect x="6.5" y="1506" width="243.5" height="243" fill="#020204"/>
<g mask="url(#cellmaskH)">
<polygon points="0.0,1519.0 6.6,1520.0 18.9,1525.9 35.4,1535.4 47.1,1547.1 61.3,1561.3 75.4,1577.8 89.6,1591.9 99.0,1606.1 106.1,1622.6 115.5,1635.5 123.8,1641.4 127.3,1641.4 132.0,1634.4 141.4,1617.9 150.9,1601.4 162.7,1584.9 174.4,1570.7 188.6,1556.6 207.4,1547.1 226.3,1535.4 235.7,1523.6 245.2,1507.1 248.0,1500.0 260.0,1500.0 260.0,1679.0 249.9,1679.2 212.2,1688.6 165.0,1700.4 127.3,1707.4 94.3,1700.4 47.1,1688.6 6.6,1674.4 0.0,1672.0" fill="#1616bc" filter="url(#blur1)"/>
<polygon points="0.0,1590.0 40.0,1600.0 70.0,1640.0 75.0,1680.0 30.0,1672.0 0.0,1665.0" fill="#8030c8" filter="url(#blur6)" opacity="0.4"/>
<polygon points="190.0,1570.0 250.0,1555.0 255.0,1680.0 185.0,1692.0 175.0,1640.0 180.0,1600.0" fill="#8030c8" filter="url(#blur6)" opacity="0.45"/>
<polygon points="0.0,1655.0 6.6,1655.6 47.1,1662.7 82.5,1679.2 117.9,1695.7 141.4,1695.7 176.8,1681.5 212.2,1674.4 249.9,1665.0 260.0,1663.0 260.0,1680.0 249.9,1679.2 212.2,1688.6 165.0,1700.4 127.3,1707.4 94.3,1700.4 47.1,1688.6 6.6,1674.4 0.0,1672.0" fill="#40c070" filter="url(#blur1)"/>
<polygon points="60.0,1680.0 120.0,1700.0 180.0,1690.0 250.0,1672.0 250.0,1680.0 180.0,1699.0 127.0,1707.0 60.0,1690.0" fill="#b040d0" filter="url(#blur2)" opacity="0.7"/>
</g>
<g mask="url(#cellmaskH)">
<polygon points="0.0,1674.4 6.6,1674.4 47.1,1688.6 94.3,1700.4 127.3,1707.4 165.0,1700.4 212.2,1688.6 249.9,1679.2 260.0,1679.0 260.0,1760.0 0.0,1760.0" fill="#07081f" filter="url(#blur1)"/>
</g>
</g>
<text x="25.90" y="1533.00" font-size="25" font-weight="bold" textLength="199" lengthAdjust="spacingAndGlyphs" ><tspan fill="#1010f0">DAPI</tspan><tspan fill="#fff">/</tspan><tspan fill="#f01cf0">Nurr1</tspan><tspan fill="#fff">/</tspan><tspan fill="#10e020">TH</tspan></text>
<text x="117.50" y="1660.60" font-size="31" font-weight="bold" fill="#ffffff" >*</text>
<text x="134.40" y="1665.00" font-size="20" fill="#ffffff" textLength="53" lengthAdjust="spacingAndGlyphs" >(<tspan font-style="italic">x</tspan><tspan font-size="13" dy="5">0</tspan><tspan dy="-5">,</tspan><tspan font-style="italic">y</tspan><tspan font-size="13" dy="5">0</tspan><tspan dy="-5">)</tspan></text>
<polyline points="123.3,1654.4 127.3,1654.4 127.3,1699.2 123.3,1699.2" fill="none" stroke="#fff" stroke-width="1.6"/>
<polyline points="73.5,1697 73.5,1701.6 117.9,1701.6 117.9,1697" fill="none" stroke="#fff" stroke-width="1.6"/>
<text x="25.90" y="1706.00" font-size="21" fill="#ffffff" >(<tspan font-style="italic">x</tspan>,<tspan font-style="italic">y</tspan>)</text>
<text x="90.50" y="1713.00" font-size="19" font-weight="bold" font-style="italic" fill="#ffffff" >x</text>
<text x="135.50" y="1701.00" font-size="21" font-weight="bold" font-style="italic" fill="#ffffff" >y</text>
<rect x="195.7" y="1726.2" width="36.5" height="2.8" fill="#fff"/>
<polyline points="711.3,81.9 1072.6,81.9 1072.6,309" fill="none" stroke="#000" stroke-width="1.3"/>
<line x1="771.30" y1="81.90" x2="771.30" y2="85.00" stroke="#000" stroke-width="1.2" stroke-linecap="butt"/>
<line x1="831.50" y1="81.90" x2="831.50" y2="85.00" stroke="#000" stroke-width="1.2" stroke-linecap="butt"/>
<line x1="951.50" y1="81.90" x2="951.50" y2="85.00" stroke="#000" stroke-width="1.2" stroke-linecap="butt"/>
<line x1="1012.40" y1="81.90" x2="1012.40" y2="85.00" stroke="#000" stroke-width="1.2" stroke-linecap="butt"/>
<line x1="1072.60" y1="138.40" x2="1069.50" y2="138.40" stroke="#000" stroke-width="1.2" stroke-linecap="butt"/>
<line x1="711.30" y1="138.40" x2="714.50" y2="138.40" stroke="#000" stroke-width="1.2" stroke-linecap="butt"/>
<line x1="1072.60" y1="251.20" x2="1069.50" y2="251.20" stroke="#000" stroke-width="1.2" stroke-linecap="butt"/>
<line x1="711.30" y1="251.20" x2="714.50" y2="251.20" stroke="#000" stroke-width="1.2" stroke-linecap="butt"/>
<line x1="771.30" y1="309.00" x2="771.30" y2="305.50" stroke="#000" stroke-width="1.2" stroke-linecap="butt"/>
<line x1="831.50" y1="309.00" x2="831.50" y2="305.50" stroke="#000" stroke-width="1.2" stroke-linecap="butt"/>
<line x1="891.60" y1="309.00" x2="891.60" y2="305.50" stroke="#000" stroke-width="1.2" stroke-linecap="butt"/>
<line x1="951.50" y1="309.00" x2="951.50" y2="305.50" stroke="#000" stroke-width="1.2" stroke-linecap="butt"/>
<line x1="1012.40" y1="309.00" x2="1012.40" y2="305.50" stroke="#000" stroke-width="1.2" stroke-linecap="butt"/>
<line x1="891.7" y1="82.5" x2="891.7" y2="308" stroke="#000" stroke-width="2" stroke-dasharray="2 2.5"/>
<line x1="712" y1="194.8" x2="1072" y2="194.8" stroke="#000" stroke-width="2" stroke-dasharray="2 2.5"/>
<circle cx="849.2" cy="136.4" r="2.75" fill="#f5831f"/>
<circle cx="829.9" cy="139.2" r="2.75" fill="#f5831f"/>
<circle cx="833.3" cy="145.9" r="2.75" fill="#f5831f"/>
<circle cx="844.5" cy="146.3" r="2.75" fill="#f5831f"/>
<circle cx="814.3" cy="147.6" r="2.75" fill="#f5831f"/>
<circle cx="823.2" cy="151.3" r="2.75" fill="#f5831f"/>
<circle cx="817.3" cy="153.8" r="2.75" fill="#f5831f"/>
<circle cx="848.4" cy="152.1" r="2.75" fill="#f5831f"/>
<circle cx="810.3" cy="155.7" r="2.75" fill="#f5831f"/>
<circle cx="829.9" cy="155.7" r="2.75" fill="#f5831f"/>
<circle cx="836.6" cy="156.0" r="2.75" fill="#f5831f"/>
<circle cx="842.0" cy="155.2" r="2.75" fill="#f5831f"/>
<circle cx="858.4" cy="159.4" r="2.75" fill="#f5831f"/>
<circle cx="862.6" cy="164.7" r="2.75" fill="#f5831f"/>
<circle cx="816.2" cy="164.7" r="2.75" fill="#f5831f"/>
<circle cx="829.1" cy="163.2" r="2.75" fill="#f5831f"/>
<circle cx="836.6" cy="166.9" r="2.75" fill="#f5831f"/>
<circle cx="848.9" cy="164.4" r="2.75" fill="#f5831f"/>
<circle cx="850.9" cy="169.4" r="2.75" fill="#f5831f"/>
<circle cx="799.2" cy="167.2" r="2.75" fill="#f5831f"/>
<circle cx="803.6" cy="173.6" r="2.75" fill="#f5831f"/>
<circle cx="824.6" cy="171.4" r="2.75" fill="#f5831f"/>
<circle cx="842.5" cy="173.9" r="2.75" fill="#f5831f"/>
<circle cx="855.4" cy="173.6" r="2.75" fill="#f5831f"/>
<circle cx="864.0" cy="174.8" r="2.75" fill="#f5831f"/>
<circle cx="833.3" cy="175.8" r="2.75" fill="#f5831f"/>
<circle cx="811.0" cy="179.5" r="2.75" fill="#f5831f"/>
<circle cx="790.2" cy="180.7" r="2.75" fill="#f5831f"/>
<circle cx="822.0" cy="181.2" r="2.75" fill="#f5831f"/>
<circle cx="845.0" cy="179.5" r="2.75" fill="#f5831f"/>
<circle cx="871.9" cy="179.8" r="2.75" fill="#f5831f"/>
<circle cx="847.2" cy="185.7" r="2.75" fill="#f5831f"/>
<circle cx="857.3" cy="186.2" r="2.75" fill="#f5831f"/>
<circle cx="796.4" cy="186.2" r="2.75" fill="#f5831f"/>
<circle cx="766.7" cy="191.7" r="2.75" fill="#f5831f"/>
<circle cx="787.7" cy="189.9" r="2.75" fill="#f5831f"/>
<circle cx="800.6" cy="192.6" r="2.75" fill="#f5831f"/>
<circle cx="809.8" cy="189.2" r="2.75" fill="#f5831f"/>
<circle cx="815.3" cy="192.1" r="2.75" fill="#f5831f"/>
<circle cx="820.7" cy="195.4" r="2.75" fill="#f5831f"/>
<circle cx="871.0" cy="189.9" r="2.75" fill="#f5831f"/>
<circle cx="879.1" cy="192.1" r="2.75" fill="#f5831f"/>
<circle cx="860.6" cy="194.9" r="2.75" fill="#f5831f"/>
<circle cx="770.9" cy="202.1" r="2.75" fill="#f5831f"/>
<circle cx="785.1" cy="203.8" r="2.75" fill="#f5831f"/>
<circle cx="791.3" cy="208.0" r="2.75" fill="#f5831f"/>
<circle cx="800.6" cy="207.2" r="2.75" fill="#f5831f"/>
<circle cx="808.1" cy="205.8" r="2.75" fill="#f5831f"/>
<circle cx="818.7" cy="205.0" r="2.75" fill="#f5831f"/>
<circle cx="830.8" cy="207.2" r="2.75" fill="#f5831f"/>
<circle cx="871.0" cy="200.1" r="2.75" fill="#f5831f"/>
<circle cx="877.7" cy="206.0" r="2.75" fill="#f5831f"/>
<circle cx="864.0" cy="207.7" r="2.75" fill="#f5831f"/>
<circle cx="884.4" cy="209.2" r="2.75" fill="#f5831f"/>
<circle cx="942.8" cy="131.3" r="2.75" fill="#f5831f"/>
<circle cx="937.0" cy="138.7" r="2.75" fill="#f5831f"/>
<circle cx="931.1" cy="142.6" r="2.75" fill="#f5831f"/>
<circle cx="947.4" cy="142.6" r="2.75" fill="#f5831f"/>
<circle cx="961.3" cy="144.3" r="2.75" fill="#f5831f"/>
<circle cx="941.7" cy="147.1" r="2.75" fill="#f5831f"/>
<circle cx="951.2" cy="150.1" r="2.75" fill="#f5831f"/>
<circle cx="957.1" cy="151.5" r="2.75" fill="#f5831f"/>
<circle cx="921.5" cy="154.8" r="2.75" fill="#f5831f"/>
<circle cx="934.4" cy="155.5" r="2.75" fill="#f5831f"/>
<circle cx="966.8" cy="157.7" r="2.75" fill="#f5831f"/>
<circle cx="940.3" cy="161.0" r="2.75" fill="#f5831f"/>
<circle cx="947.4" cy="158.8" r="2.75" fill="#f5831f"/>
<circle cx="925.6" cy="162.2" r="2.75" fill="#f5831f"/>
<circle cx="914.8" cy="164.9" r="2.75" fill="#f5831f"/>
<circle cx="958.8" cy="163.9" r="2.75" fill="#f5831f"/>
<circle cx="928.9" cy="167.7" r="2.75" fill="#f5831f"/>
<circle cx="947.9" cy="167.2" r="2.75" fill="#f5831f"/>
<circle cx="938.3" cy="170.8" r="2.75" fill="#f5831f"/>
<circle cx="958.4" cy="172.3" r="2.75" fill="#f5831f"/>
<circle cx="971.0" cy="170.6" r="2.75" fill="#f5831f"/>
<circle cx="983.6" cy="170.8" r="2.75" fill="#f5831f"/>
<circle cx="923.5" cy="173.9" r="2.75" fill="#f5831f"/>
<circle cx="949.0" cy="175.3" r="2.75" fill="#f5831f"/>
<circle cx="935.6" cy="178.6" r="2.75" fill="#f5831f"/>
<circle cx="918.8" cy="180.3" r="2.75" fill="#f5831f"/>
<circle cx="968.8" cy="180.7" r="2.75" fill="#f5831f"/>
<circle cx="988.1" cy="180.3" r="2.75" fill="#f5831f"/>
<circle cx="956.8" cy="182.3" r="2.75" fill="#f5831f"/>
<circle cx="910.6" cy="187.9" r="2.75" fill="#f5831f"/>
<circle cx="929.8" cy="189.0" r="2.75" fill="#f5831f"/>
<circle cx="950.4" cy="186.2" r="2.75" fill="#f5831f"/>
<circle cx="964.6" cy="185.4" r="2.75" fill="#f5831f"/>
<circle cx="973.0" cy="185.4" r="2.75" fill="#f5831f"/>
<circle cx="968.8" cy="189.0" r="2.75" fill="#f5831f"/>
<circle cx="981.4" cy="187.9" r="2.75" fill="#f5831f"/>
<circle cx="986.9" cy="186.2" r="2.75" fill="#f5831f"/>
<circle cx="999.9" cy="188.4" r="2.75" fill="#f5831f"/>
<circle cx="920.5" cy="192.4" r="2.75" fill="#f5831f"/>
<circle cx="941.7" cy="190.0" r="2.75" fill="#f5831f"/>
<circle cx="962.5" cy="192.9" r="2.75" fill="#f5831f"/>
<circle cx="901.2" cy="197.9" r="2.75" fill="#f5831f"/>
<circle cx="914.3" cy="196.8" r="2.75" fill="#f5831f"/>
<circle cx="928.6" cy="196.3" r="2.75" fill="#f5831f"/>
<circle cx="957.9" cy="196.8" r="2.75" fill="#f5831f"/>
<circle cx="971.9" cy="196.6" r="2.75" fill="#f5831f"/>
<circle cx="983.9" cy="197.9" r="2.75" fill="#f5831f"/>
<circle cx="900.1" cy="205.5" r="2.75" fill="#f5831f"/>
<circle cx="909.8" cy="204.6" r="2.75" fill="#f5831f"/>
<circle cx="952.1" cy="203.8" r="2.75" fill="#f5831f"/>
<circle cx="961.8" cy="202.5" r="2.75" fill="#f5831f"/>
<circle cx="970.5" cy="203.3" r="2.75" fill="#f5831f"/>
<circle cx="979.2" cy="202.5" r="2.75" fill="#f5831f"/>
<circle cx="994.0" cy="202.5" r="2.75" fill="#f5831f"/>
<circle cx="1001.0" cy="200.4" r="2.75" fill="#f5831f"/>
<circle cx="980.6" cy="211.9" r="2.75" fill="#f5831f"/>
<circle cx="869.3" cy="214.6" r="2.75" fill="#f5831f"/>
<circle cx="779.1" cy="220.4" r="2.75" fill="#f5831f"/>
<circle cx="791.0" cy="220.1" r="2.75" fill="#f5831f"/>
<circle cx="802.3" cy="220.1" r="2.75" fill="#f5831f"/>
<circle cx="813.7" cy="218.1" r="2.75" fill="#f5831f"/>
<circle cx="821.2" cy="215.4" r="2.75" fill="#f5831f"/>
<circle cx="785.0" cy="223.8" r="2.75" fill="#f5831f"/>
<circle cx="795.9" cy="225.1" r="2.75" fill="#f5831f"/>
<circle cx="821.0" cy="226.0" r="2.75" fill="#f5831f"/>
<circle cx="827.9" cy="228.0" r="2.75" fill="#f5831f"/>
<circle cx="838.3" cy="225.5" r="2.75" fill="#f5831f"/>
<circle cx="844.7" cy="225.5" r="2.75" fill="#f5831f"/>
<circle cx="852.6" cy="222.9" r="2.75" fill="#f5831f"/>
<circle cx="858.4" cy="220.9" r="2.75" fill="#f5831f"/>
<circle cx="865.7" cy="224.6" r="2.75" fill="#f5831f"/>
<circle cx="875.2" cy="221.4" r="2.75" fill="#f5831f"/>
<circle cx="882.8" cy="222.9" r="2.75" fill="#f5831f"/>
<circle cx="888.6" cy="219.6" r="2.75" fill="#f5831f"/>
<circle cx="891.1" cy="228.8" r="2.75" fill="#f5831f"/>
<circle cx="814.3" cy="231.5" r="2.75" fill="#f5831f"/>
<circle cx="822.4" cy="237.7" r="2.75" fill="#f5831f"/>
<circle cx="840.5" cy="236.5" r="2.75" fill="#f5831f"/>
<circle cx="851.2" cy="233.8" r="2.75" fill="#f5831f"/>
<circle cx="857.9" cy="232.7" r="2.75" fill="#f5831f"/>
<circle cx="867.7" cy="233.8" r="2.75" fill="#f5831f"/>
<circle cx="872.7" cy="238.0" r="2.75" fill="#f5831f"/>
<circle cx="881.1" cy="231.8" r="2.75" fill="#f5831f"/>
<circle cx="786.8" cy="233.5" r="2.75" fill="#f5831f"/>
<circle cx="833.8" cy="242.4" r="2.75" fill="#f5831f"/>
<circle cx="848.9" cy="244.4" r="2.75" fill="#f5831f"/>
<circle cx="859.8" cy="245.3" r="2.75" fill="#f5831f"/>
<circle cx="881.4" cy="242.7" r="2.75" fill="#f5831f"/>
<circle cx="840.0" cy="248.6" r="2.75" fill="#f5831f"/>
<circle cx="875.7" cy="248.1" r="2.75" fill="#f5831f"/>
<circle cx="855.9" cy="253.3" r="2.75" fill="#f5831f"/>
<circle cx="865.7" cy="252.5" r="2.75" fill="#f5831f"/>
<circle cx="883.6" cy="254.0" r="2.75" fill="#f5831f"/>
<circle cx="891.1" cy="254.8" r="2.75" fill="#f5831f"/>
<circle cx="844.7" cy="258.3" r="2.75" fill="#f5831f"/>
<circle cx="872.7" cy="261.2" r="2.75" fill="#f5831f"/>
<circle cx="885.3" cy="261.7" r="2.75" fill="#f5831f"/>
<circle cx="863.5" cy="265.4" r="2.75" fill="#f5831f"/>
<circle cx="884.9" cy="270.9" r="2.75" fill="#f5831f"/>
<circle cx="861.5" cy="275.9" r="2.75" fill="#f5831f"/>
<circle cx="860.6" cy="283.8" r="2.75" fill="#f5831f"/>
<circle cx="873.0" cy="282.5" r="2.75" fill="#f5831f"/>
<circle cx="881.1" cy="281.0" r="2.75" fill="#f5831f"/>
<circle cx="894.2" cy="213.4" r="2.75" fill="#f5831f"/>
<circle cx="901.4" cy="215.4" r="2.75" fill="#f5831f"/>
<circle cx="912.6" cy="214.7" r="2.75" fill="#f5831f"/>
<circle cx="921.0" cy="218.8" r="2.75" fill="#f5831f"/>
<circle cx="930.6" cy="216.4" r="2.75" fill="#f5831f"/>
<circle cx="942.5" cy="213.7" r="2.75" fill="#f5831f"/>
<circle cx="949.5" cy="217.1" r="2.75" fill="#f5831f"/>
<circle cx="960.4" cy="214.6" r="2.75" fill="#f5831f"/>
<circle cx="970.2" cy="214.2" r="2.75" fill="#f5831f"/>
<circle cx="980.9" cy="212.0" r="2.75" fill="#f5831f"/>
<circle cx="939.5" cy="222.6" r="2.75" fill="#f5831f"/>
<circle cx="948.4" cy="225.1" r="2.75" fill="#f5831f"/>
<circle cx="891.7" cy="228.5" r="2.75" fill="#f5831f"/>
<circle cx="900.1" cy="230.2" r="2.75" fill="#f5831f"/>
<circle cx="906.8" cy="227.6" r="2.75" fill="#f5831f"/>
<circle cx="916.0" cy="230.5" r="2.75" fill="#f5831f"/>
<circle cx="922.2" cy="227.6" r="2.75" fill="#f5831f"/>
<circle cx="930.3" cy="231.0" r="2.75" fill="#f5831f"/>
<circle cx="936.1" cy="235.2" r="2.75" fill="#f5831f"/>
<circle cx="947.4" cy="233.8" r="2.75" fill="#f5831f"/>
<circle cx="953.2" cy="231.8" r="2.75" fill="#f5831f"/>
<circle cx="961.8" cy="228.5" r="2.75" fill="#f5831f"/>
<circle cx="969.7" cy="226.0" r="2.75" fill="#f5831f"/>
<circle cx="893.0" cy="238.2" r="2.75" fill="#f5831f"/>
<circle cx="923.5" cy="238.9" r="2.75" fill="#f5831f"/>
<circle cx="943.7" cy="240.6" r="2.75" fill="#f5831f"/>
<circle cx="952.4" cy="243.6" r="2.75" fill="#f5831f"/>
<circle cx="891.7" cy="245.3" r="2.75" fill="#f5831f"/>
<circle cx="907.6" cy="244.8" r="2.75" fill="#f5831f"/>
<circle cx="914.7" cy="243.2" r="2.75" fill="#f5831f"/>
<circle cx="934.1" cy="246.6" r="2.75" fill="#f5831f"/>
<circle cx="900.1" cy="249.4" r="2.75" fill="#f5831f"/>
<circle cx="926.4" cy="250.8" r="2.75" fill="#f5831f"/>
<circle cx="920.5" cy="253.6" r="2.75" fill="#f5831f"/>
<circle cx="949.9" cy="251.5" r="2.75" fill="#f5831f"/>
<circle cx="941.2" cy="255.0" r="2.75" fill="#f5831f"/>
<circle cx="891.7" cy="254.5" r="2.75" fill="#f5831f"/>
<circle cx="897.5" cy="258.3" r="2.75" fill="#f5831f"/>
<circle cx="906.3" cy="259.0" r="2.75" fill="#f5831f"/>
<circle cx="913.0" cy="258.3" r="2.75" fill="#f5831f"/>
<circle cx="932.8" cy="257.8" r="2.75" fill="#f5831f"/>
<circle cx="930.3" cy="265.4" r="2.75" fill="#f5831f"/>
<circle cx="940.7" cy="263.4" r="2.75" fill="#f5831f"/>
<circle cx="914.8" cy="277.1" r="2.75" fill="#f5831f"/>
<circle cx="712.5" cy="207.2" r="2.75" fill="#127a3c"/>
<circle cx="731.8" cy="199.6" r="2.75" fill="#127a3c"/>
<circle cx="739.4" cy="201.3" r="2.75" fill="#127a3c"/>
<circle cx="727.6" cy="205.5" r="2.75" fill="#127a3c"/>
<circle cx="744.0" cy="205.8" r="2.75" fill="#127a3c"/>
<circle cx="750.3" cy="203.0" r="2.75" fill="#127a3c"/>
<circle cx="758.6" cy="200.8" r="2.75" fill="#127a3c"/>
<circle cx="730.5" cy="211.3" r="2.75" fill="#127a3c"/>
<circle cx="993.2" cy="174.1" r="2.75" fill="#127a3c"/>
<circle cx="1028.9" cy="197.1" r="2.75" fill="#127a3c"/>
<circle cx="1015.0" cy="200.8" r="2.75" fill="#127a3c"/>
<circle cx="1027.9" cy="203.8" r="2.75" fill="#127a3c"/>
<circle cx="1035.1" cy="205.5" r="2.75" fill="#127a3c"/>
<circle cx="1001.5" cy="210.2" r="2.75" fill="#127a3c"/>
<circle cx="1020.5" cy="211.0" r="2.75" fill="#127a3c"/>
<circle cx="721.4" cy="213.4" r="2.75" fill="#127a3c"/>
<circle cx="741.5" cy="215.4" r="2.75" fill="#127a3c"/>
<circle cx="750.6" cy="214.6" r="2.75" fill="#127a3c"/>
<circle cx="759.0" cy="213.7" r="2.75" fill="#127a3c"/>
<circle cx="766.7" cy="212.0" r="2.75" fill="#127a3c"/>
<circle cx="772.1" cy="213.4" r="2.75" fill="#127a3c"/>
<circle cx="728.1" cy="221.8" r="2.75" fill="#127a3c"/>
<circle cx="736.0" cy="222.1" r="2.75" fill="#127a3c"/>
<circle cx="755.0" cy="222.3" r="2.75" fill="#127a3c"/>
<circle cx="763.3" cy="222.6" r="2.75" fill="#127a3c"/>
<circle cx="770.7" cy="226.5" r="2.75" fill="#127a3c"/>
<circle cx="766.2" cy="229.8" r="2.75" fill="#127a3c"/>
<circle cx="774.6" cy="231.5" r="2.75" fill="#127a3c"/>
<circle cx="744.4" cy="231.0" r="2.75" fill="#127a3c"/>
<circle cx="735.5" cy="233.5" r="2.75" fill="#127a3c"/>
<circle cx="758.6" cy="236.4" r="2.75" fill="#127a3c"/>
<circle cx="768.7" cy="235.5" r="2.75" fill="#127a3c"/>
<circle cx="792.2" cy="231.5" r="2.75" fill="#127a3c"/>
<circle cx="794.7" cy="236.9" r="2.75" fill="#127a3c"/>
<circle cx="783.8" cy="240.2" r="2.75" fill="#127a3c"/>
<circle cx="791.3" cy="241.6" r="2.75" fill="#127a3c"/>
<circle cx="803.6" cy="236.4" r="2.75" fill="#127a3c"/>
<circle cx="806.9" cy="227.6" r="2.75" fill="#127a3c"/>
<circle cx="742.7" cy="242.7" r="2.75" fill="#127a3c"/>
<circle cx="768.4" cy="243.6" r="2.75" fill="#127a3c"/>
<circle cx="779.1" cy="244.9" r="2.75" fill="#127a3c"/>
<circle cx="784.6" cy="248.9" r="2.75" fill="#127a3c"/>
<circle cx="805.9" cy="247.8" r="2.75" fill="#127a3c"/>
<circle cx="819.4" cy="252.0" r="2.75" fill="#127a3c"/>
<circle cx="801.4" cy="256.2" r="2.75" fill="#127a3c"/>
<circle cx="795.5" cy="262.0" r="2.75" fill="#127a3c"/>
<circle cx="833.3" cy="257.0" r="2.75" fill="#127a3c"/>
<circle cx="819.9" cy="266.6" r="2.75" fill="#127a3c"/>
<circle cx="836.6" cy="266.7" r="2.75" fill="#127a3c"/>
<circle cx="850.9" cy="267.1" r="2.75" fill="#127a3c"/>
<circle cx="815.2" cy="273.8" r="2.75" fill="#127a3c"/>
<circle cx="827.1" cy="273.4" r="2.75" fill="#127a3c"/>
<circle cx="868.5" cy="272.9" r="2.75" fill="#127a3c"/>
<circle cx="843.7" cy="277.6" r="2.75" fill="#127a3c"/>
<circle cx="850.6" cy="281.8" r="2.75" fill="#127a3c"/>
<circle cx="890.8" cy="283.8" r="2.75" fill="#127a3c"/>
<circle cx="989.3" cy="212.0" r="2.75" fill="#127a3c"/>
<circle cx="1039.8" cy="213.4" r="2.75" fill="#127a3c"/>
<circle cx="996.2" cy="217.1" r="2.75" fill="#127a3c"/>
<circle cx="1012.9" cy="216.2" r="2.75" fill="#127a3c"/>
<circle cx="1028.4" cy="218.1" r="2.75" fill="#127a3c"/>
<circle cx="1049.7" cy="218.8" r="2.75" fill="#127a3c"/>
<circle cx="1003.2" cy="221.3" r="2.75" fill="#127a3c"/>
<circle cx="1037.9" cy="222.9" r="2.75" fill="#127a3c"/>
<circle cx="980.9" cy="224.3" r="2.75" fill="#127a3c"/>
<circle cx="1010.3" cy="226.3" r="2.75" fill="#127a3c"/>
<circle cx="1000.7" cy="230.2" r="2.75" fill="#127a3c"/>
<circle cx="1031.7" cy="231.0" r="2.75" fill="#127a3c"/>
<circle cx="990.3" cy="234.4" r="2.75" fill="#127a3c"/>
<circle cx="1045.7" cy="233.5" r="2.75" fill="#127a3c"/>
<circle cx="1038.4" cy="236.4" r="2.75" fill="#127a3c"/>
<circle cx="1032.2" cy="238.2" r="2.75" fill="#127a3c"/>
<circle cx="973.0" cy="236.4" r="2.75" fill="#127a3c"/>
<circle cx="978.6" cy="237.7" r="2.75" fill="#127a3c"/>
<circle cx="1017.8" cy="238.5" r="2.75" fill="#127a3c"/>
<circle cx="959.1" cy="240.2" r="2.75" fill="#127a3c"/>
<circle cx="994.0" cy="241.4" r="2.75" fill="#127a3c"/>
<circle cx="1005.1" cy="239.4" r="2.75" fill="#127a3c"/>
<circle cx="1013.3" cy="245.8" r="2.75" fill="#127a3c"/>
<circle cx="980.9" cy="247.8" r="2.75" fill="#127a3c"/>
<circle cx="1002.4" cy="248.3" r="2.75" fill="#127a3c"/>
<circle cx="961.8" cy="250.3" r="2.75" fill="#127a3c"/>
<circle cx="989.0" cy="253.1" r="2.75" fill="#127a3c"/>
<circle cx="1005.7" cy="255.3" r="2.75" fill="#127a3c"/>
<circle cx="982.3" cy="257.8" r="2.75" fill="#127a3c"/>
<circle cx="997.3" cy="259.2" r="2.75" fill="#127a3c"/>
<circle cx="966.0" cy="262.0" r="2.75" fill="#127a3c"/>
<circle cx="1001.0" cy="264.5" r="2.75" fill="#127a3c"/>
<circle cx="986.4" cy="265.7" r="2.75" fill="#127a3c"/>
<circle cx="994.8" cy="267.1" r="2.75" fill="#127a3c"/>
<circle cx="897.0" cy="266.7" r="2.75" fill="#127a3c"/>
<circle cx="907.9" cy="268.4" r="2.75" fill="#127a3c"/>
<circle cx="954.6" cy="268.7" r="2.75" fill="#127a3c"/>
<circle cx="975.2" cy="268.7" r="2.75" fill="#127a3c"/>
<circle cx="904.8" cy="276.3" r="2.75" fill="#127a3c"/>
<circle cx="941.5" cy="273.4" r="2.75" fill="#127a3c"/>
<circle cx="963.8" cy="278.5" r="2.75" fill="#127a3c"/>
<line x1="711.30" y1="62.00" x2="711.30" y2="328.00" stroke="#000" stroke-width="2.5" stroke-linecap="butt"/>
<path d="M711.3,51.4 L716.8,65.4 L711.3,61.9 L705.8,65.4 Z" fill="#000"/>
<path d="M711.3,338.8 L705.8,324.8 L711.3,328.3 L716.8,324.8 Z" fill="#000"/>
<line x1="697.00" y1="309.10" x2="1086.00" y2="309.10" stroke="#000" stroke-width="2.5" stroke-linecap="butt"/>
<path d="M685.7,309.1 L699.7,303.6 L696.2,309.1 L699.7,314.6 Z" fill="#000"/>
<path d="M1097.0,309.1 L1083.0,314.6 L1086.5,309.1 L1083.0,303.6 Z" fill="#000"/>
<text x="701.50" y="93.20" font-size="34" text-anchor="end" >100</text>
<text x="701.50" y="149.70" font-size="34" text-anchor="end" >50</text>
<text x="701.50" y="208.80" font-size="34" text-anchor="end" >0</text>
<text x="701.50" y="267.60" font-size="34" text-anchor="end" >-50</text>
<text x="701.50" y="304.70" font-size="34" text-anchor="end" >-100</text>
<text x="769.00" y="338.90" font-size="31.5" text-anchor="middle" >100</text>
<text x="828.00" y="338.90" font-size="31.5" text-anchor="middle" >50</text>
<text x="889.00" y="338.90" font-size="31.5" text-anchor="middle" >0</text>
<text x="950.70" y="338.90" font-size="31.5" text-anchor="middle" >50</text>
<text x="1012.40" y="338.90" font-size="31.5" text-anchor="middle" >100</text>
<text x="1071.50" y="338.90" font-size="31.5" text-anchor="middle" >150</text>
<text x="913.50" y="374.40" font-size="35.5" text-anchor="middle" textLength="286" lengthAdjust="spacingAndGlyphs" >ML position (<tspan font-style="italic">x</tspan>, µm)</text>
<text x="831.00" y="415.00" font-size="35.5" textLength="179.5" lengthAdjust="spacingAndGlyphs" >relative to <tspan font-style="italic">x</tspan><tspan font-style="italic" font-size="20" dy="8">0</tspan></text>
<text x="587.30" y="192.90" font-size="35.5" text-anchor="middle" transform="rotate(-90 587.30 192.90)" textLength="278" lengthAdjust="spacingAndGlyphs" >DV position (<tspan font-style="italic">y</tspan>, µm)</text>
<text x="628.50" y="198.30" font-size="35.5" text-anchor="middle" transform="rotate(-90 628.50 198.30)" textLength="178" lengthAdjust="spacingAndGlyphs" >relative to <tspan font-style="italic">y</tspan><tspan font-style="italic" font-size="20" dy="8">0</tspan></text>
</svg></body></html>
